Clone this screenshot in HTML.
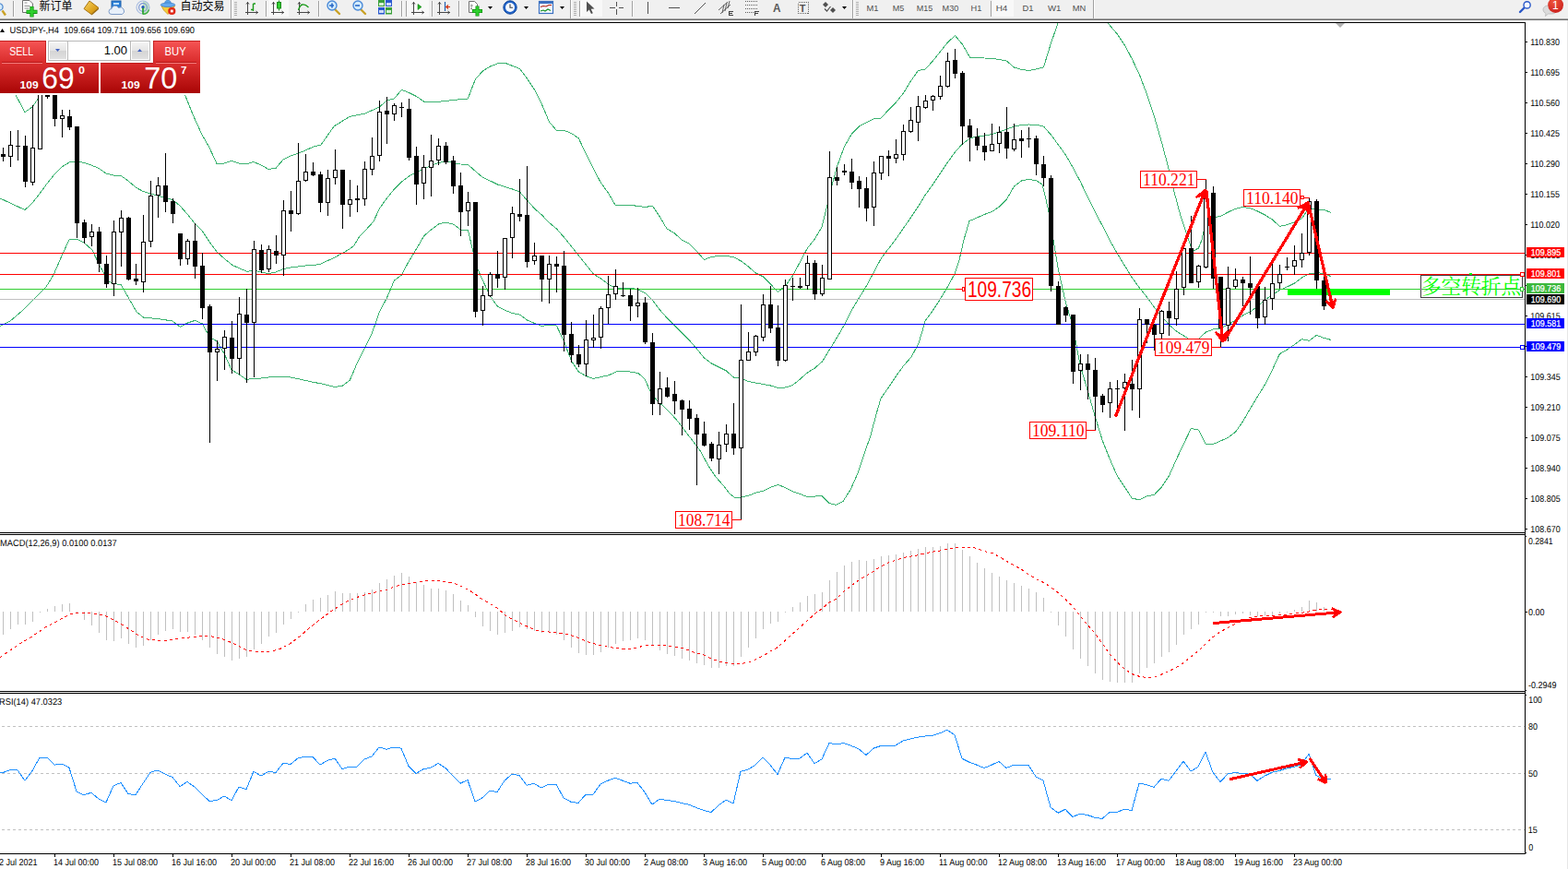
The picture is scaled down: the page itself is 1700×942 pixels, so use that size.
<!DOCTYPE html><html><head><meta charset="utf-8"><title>USDJPY H4</title><style>
html,body{margin:0;padding:0;background:#fff;}body{width:1700px;height:942px;overflow:hidden;position:relative;font-family:"Liberation Sans",sans-serif;}
svg{position:absolute;left:0;top:0;display:block}
text{font-family:"Liberation Sans",sans-serif;}
text.s{font-family:"Liberation Serif",serif;}
</style></head><body>
<svg width="1700" height="942" viewBox="0 0 1700 942">
<defs>
<clipPath id="cm"><rect x="0" y="25" width="1653" height="552"/></clipPath>
<clipPath id="cmacd"><rect x="0" y="580" width="1653" height="169"/></clipPath>
<clipPath id="crsi"><rect x="0" y="752" width="1653" height="173"/></clipPath>
<linearGradient id="gsell" x1="0" y1="0" x2="0" y2="1"><stop offset="0" stop-color="#f65555"/><stop offset="1" stop-color="#d92b2b"/></linearGradient>
<linearGradient id="gprice" x1="0" y1="0" x2="0" y2="1"><stop offset="0" stop-color="#db2f2f"/><stop offset="1" stop-color="#a90505"/></linearGradient>
<linearGradient id="gbtn" x1="0" y1="0" x2="0" y2="1"><stop offset="0" stop-color="#f4f4f4"/><stop offset="0.5" stop-color="#e4e4e4"/><stop offset="0.5" stop-color="#d4d4d4"/><stop offset="1" stop-color="#e0e0e0"/></linearGradient>
<radialGradient id="gred" cx="0.4" cy="0.3" r="0.8"><stop offset="0" stop-color="#f0553a"/><stop offset="1" stop-color="#c81e1e"/></radialGradient>
<linearGradient id="ggold" x1="0" y1="0" x2="1" y2="1"><stop offset="0" stop-color="#f6d76a"/><stop offset="0.6" stop-color="#e0a520"/><stop offset="1" stop-color="#b8820f"/></linearGradient>
</defs>
<rect x="0" y="0" width="1700" height="942" fill="#fff"/>
<rect x="0" y="0" width="1700" height="20" fill="#f0f0f0"/>
<g shape-rendering="crispEdges"><rect x="0" y="20" width="1700" height="1" fill="#a8a8a8"/><rect x="0" y="21" width="1700" height="1" fill="#6e6e6e"/><rect x="0" y="22" width="1700" height="2" fill="#ffffff"/></g>
<line x1="2.5" y1="11.5" x2="6" y2="16.5" stroke="#c9a227" stroke-width="2.4"/><circle cx="-0.5" cy="7.5" r="3.6" fill="#d4ecfc" stroke="#5a8fd0" stroke-width="1.3"/>
<rect x="14" y="1" width="1" height="17" fill="#a0a0a0" shape-rendering="crispEdges"/>
<rect x="15" y="1" width="1" height="17" fill="#fff" shape-rendering="crispEdges"/>
<path d="M24.5 0.5h7.5l3.5 3.5v9.5h-11z" fill="#fff" stroke="#707070" stroke-width="1"/><path d="M26.5 3h3M26.5 6.5h6M26.5 9h5" stroke="#909090" stroke-width="1"/>
<path d="M34.5 7v11.5M28.5 12.8h12" stroke="#0f8f0f" stroke-width="4.2"/><path d="M34.5 7.6v10.3M29.1 12.8h10.8" stroke="#2fd02f" stroke-width="2.6"/>
<text x="42.6" y="11.3" font-size="12" fill="#000" textLength="36" lengthAdjust="spacingAndGlyphs" style="font-family:'Liberation Sans','Noto Sans CJK SC',sans-serif">新订单</text>
<polygon points="91,9.5 97,1 107,8.5 99,15.5" fill="url(#ggold)" stroke="#a87412" stroke-width="1"/><polygon points="99,15.5 107,8.5 107,10 99.5,16.6" fill="#9a6a10"/>
<rect x="121" y="1" width="10" height="10" fill="#2a7fd8" stroke="#1c5fa8" stroke-width="1"/><rect x="123" y="3" width="6" height="2" fill="#bfe0ff"/>
<path d="M121 15.5a3 3 0 0 1 0-6a4 4 0 0 1 7.5-1a3.5 3.5 0 0 1 4 7z" fill="#e8f0fa" stroke="#7f9cc8" stroke-width="1"/>
<path d="M155 1A7 7 0 0 1 155 15.4Z" fill="#9fd89f" opacity="0.55"/>
<circle cx="155" cy="8" r="7" fill="none" stroke="#a8bce0" stroke-width="1.1"/><circle cx="155" cy="8" r="4.4" fill="none" stroke="#7c98d4" stroke-width="1.1"/><circle cx="155" cy="7.8" r="1.7" fill="#2456c0"/>
<path d="M155 8.5v7" stroke="#1fa01f" stroke-width="1.6" fill="none"/><path d="M155 15.4A7 7 0 0 0 161.5 10.5" stroke="#3cb03c" stroke-width="1.3" fill="none"/>
<path d="M175 6.5h14.5l-3 4.5l-4.5 4.5l-4.5-4.5z" fill="#f4cc3c" stroke="#c8961a" stroke-width="0.8"/>
<path d="M178.3 4.5C179 1 180 0 182 0S185 1 185.7 4.500z" fill="#5aa4e8" stroke="#3c78c0" stroke-width="0.6"/><ellipse cx="182" cy="5.3" rx="7.8" ry="2.3" fill="#64aaf0" stroke="#3c78c0" stroke-width="0.7"/>
<circle cx="186.3" cy="12" r="4.1" fill="#e02818"/><rect x="184.9" y="10.6" width="2.8" height="2.8" fill="#fff"/>
<text x="195.6" y="11.3" font-size="12" fill="#000" textLength="48" lengthAdjust="spacingAndGlyphs" style="font-family:'Liberation Sans','Noto Sans CJK SC',sans-serif">自动交易</text>
<rect x="250" y="0" width="1" height="20" fill="#a0a0a0" shape-rendering="crispEdges"/>
<rect x="251" y="0" width="1" height="20" fill="#fff" shape-rendering="crispEdges"/>
<rect x="254" y="2" width="3" height="1" fill="#b0b0b0" shape-rendering="crispEdges"/>
<rect x="254" y="4" width="3" height="1" fill="#b0b0b0" shape-rendering="crispEdges"/>
<rect x="254" y="6" width="3" height="1" fill="#b0b0b0" shape-rendering="crispEdges"/>
<rect x="254" y="8" width="3" height="1" fill="#b0b0b0" shape-rendering="crispEdges"/>
<rect x="254" y="10" width="3" height="1" fill="#b0b0b0" shape-rendering="crispEdges"/>
<rect x="254" y="12" width="3" height="1" fill="#b0b0b0" shape-rendering="crispEdges"/>
<rect x="254" y="14" width="3" height="1" fill="#b0b0b0" shape-rendering="crispEdges"/>
<rect x="254" y="16" width="3" height="1" fill="#b0b0b0" shape-rendering="crispEdges"/>
<path d="M268.5 2V16M266 13.5H280 M267.0 4.5l1.5-2 1.5 2M277.5 12l2 1.5-2 1.5" stroke="#484848" stroke-width="1" fill="none"/>
<path d="M274.5 4v8M274.5 4h2.5M272 10.5h2.5" stroke="#1a9a1a" stroke-width="1.4" fill="none"/>
<rect x="288" y="1" width="1" height="17" fill="#a0a0a0" shape-rendering="crispEdges"/>
<rect x="289" y="1" width="1" height="17" fill="#fff" shape-rendering="crispEdges"/>
<rect x="291" y="0" width="22" height="18" fill="#f8f8f8"/>
<path d="M296.5 2V16M294 13.5H308 M295.0 4.5l1.5-2 1.5 2M305.5 12l2 1.5-2 1.5" stroke="#484848" stroke-width="1" fill="none"/>
<path d="M302.5 0.5v11" stroke="#1a8a1a" stroke-width="1"/><rect x="300.5" y="2.5" width="4" height="6.5" fill="#30d030" stroke="#1a8a1a" stroke-width="1"/>
<path d="M324.5 2V16M322 13.5H336 M323.0 4.5l1.5-2 1.5 2M333.5 12l2 1.5-2 1.5" stroke="#484848" stroke-width="1" fill="none"/>
<path d="M323.5 11c2-7 6-8 11-3" stroke="#1a9a1a" stroke-width="1.3" fill="none"/>
<rect x="345" y="1" width="1" height="17" fill="#a0a0a0" shape-rendering="crispEdges"/>
<rect x="346" y="1" width="1" height="17" fill="#fff" shape-rendering="crispEdges"/>
<line x1="363" y1="10" x2="368" y2="15" stroke="#c9a227" stroke-width="2.4" stroke-linecap="round"/>
<circle cx="360" cy="6" r="5" fill="#d4ecfc" stroke="#4a8ad8" stroke-width="1.4"/>
<path d="M357 6h5M360 3.5v5" stroke="#2a6ac8" stroke-width="1.6"/>
<line x1="391" y1="10" x2="396" y2="15" stroke="#c9a227" stroke-width="2.4" stroke-linecap="round"/>
<circle cx="388" cy="6" r="5" fill="#d4ecfc" stroke="#4a8ad8" stroke-width="1.4"/>
<path d="M385 6h5" stroke="#2a6ac8" stroke-width="1.6"/>
<rect x="410" y="0" width="7" height="7" fill="#3aa03a"/><rect x="418" y="0" width="7" height="7" fill="#2a5ad0"/><rect x="410" y="8" width="7" height="7.5" fill="#2a5ad0"/><rect x="418" y="8" width="7" height="7.5" fill="#3aa03a"/>
<rect x="411" y="3" width="5" height="3" fill="#d8f0d8"/><rect x="419" y="3" width="5" height="3" fill="#d0dcf8"/><rect x="411" y="11" width="5" height="3" fill="#d0dcf8"/><rect x="419" y="11" width="5" height="3" fill="#d8f0d8"/>
<rect x="435" y="1" width="1" height="17" fill="#a0a0a0" shape-rendering="crispEdges"/>
<rect x="436" y="1" width="1" height="17" fill="#fff" shape-rendering="crispEdges"/>
<rect x="440" y="1" width="1" height="17" fill="#a0a0a0" shape-rendering="crispEdges"/>
<rect x="441" y="1" width="1" height="17" fill="#fff" shape-rendering="crispEdges"/>
<rect x="442" y="0" width="23" height="18" fill="#f8f8f8"/>
<path d="M448.5 2V16M446 13.5H460 M447.0 4.5l1.5-2 1.5 2M457.5 12l2 1.5-2 1.5" stroke="#484848" stroke-width="1" fill="none"/>
<polygon points="453,4.5 453,10.5 457,7.5" fill="#20b020" stroke="#148014" stroke-width="0.6"/>
<rect x="468" y="1" width="1" height="17" fill="#a0a0a0" shape-rendering="crispEdges"/>
<rect x="469" y="1" width="1" height="17" fill="#fff" shape-rendering="crispEdges"/>
<path d="M476.5 2V16M474 13.5H488 M475.0 4.5l1.5-2 1.5 2M485.5 12l2 1.5-2 1.5" stroke="#484848" stroke-width="1" fill="none"/>
<path d="M482.5 2v10" stroke="#2060b0" stroke-width="1.2"/><path d="M488 7.5h-4m2-2l-2.3 2 2.3 2" stroke="#d03010" stroke-width="1.1" fill="none"/>
<rect x="497" y="1" width="1" height="17" fill="#a0a0a0" shape-rendering="crispEdges"/>
<rect x="498" y="1" width="1" height="17" fill="#fff" shape-rendering="crispEdges"/>
<path d="M508.5 1.5h6l3 3v9h-9z" fill="#fff" stroke="#707070" stroke-width="1"/><path d="M511 4.5v6M510 9.5h2M510 6h3" stroke="#808080" stroke-width="0.8"/>
<path d="M517.5 6.5v11M512 12h11" stroke="#0f8f0f" stroke-width="4"/><path d="M517.5 7.1v9.8M512.6 12h9.8" stroke="#2fd02f" stroke-width="2.4"/>
<polygon points="529,7 534,7 531.5,10" fill="#000"/>
<circle cx="553" cy="8" r="7.2" fill="#1f62c8" stroke="#154a9c" stroke-width="1"/><circle cx="553" cy="8" r="5" fill="#f4f8ff"/><path d="M553 4.5v3.8h3" stroke="#404040" stroke-width="1.1" fill="none"/>
<polygon points="568,7 573,7 570.5,10" fill="#000"/>
<rect x="584.5" y="1.5" width="15" height="13" fill="#f4f8ff" stroke="#3a70c0" stroke-width="1.2"/><rect x="585" y="2" width="14" height="2" fill="#3a70c0"/><path d="M586 7.5l3-1 3 .5 3-1.5 3 0" stroke="#b02010" stroke-width="1.1" fill="none"/><path d="M586 12l3-1 2 1 3-2 3 1.5" stroke="#109020" stroke-width="1.1" fill="none"/>
<polygon points="607,7 612,7 609.5,10" fill="#000"/>
<rect x="618" y="0" width="1" height="20" fill="#a0a0a0" shape-rendering="crispEdges"/>
<rect x="619" y="0" width="1" height="20" fill="#fff" shape-rendering="crispEdges"/>
<rect x="622" y="2" width="3" height="1" fill="#b0b0b0" shape-rendering="crispEdges"/>
<rect x="622" y="4" width="3" height="1" fill="#b0b0b0" shape-rendering="crispEdges"/>
<rect x="622" y="6" width="3" height="1" fill="#b0b0b0" shape-rendering="crispEdges"/>
<rect x="622" y="8" width="3" height="1" fill="#b0b0b0" shape-rendering="crispEdges"/>
<rect x="622" y="10" width="3" height="1" fill="#b0b0b0" shape-rendering="crispEdges"/>
<rect x="622" y="12" width="3" height="1" fill="#b0b0b0" shape-rendering="crispEdges"/>
<rect x="622" y="14" width="3" height="1" fill="#b0b0b0" shape-rendering="crispEdges"/>
<rect x="622" y="16" width="3" height="1" fill="#b0b0b0" shape-rendering="crispEdges"/>
<rect x="628" y="1" width="1" height="17" fill="#a0a0a0" shape-rendering="crispEdges"/>
<rect x="629" y="1" width="1" height="17" fill="#fff" shape-rendering="crispEdges"/>
<rect x="630" y="0" width="23" height="18" fill="#f8f8f8"/>
<polygon points="636,1.5 636,13 638.8,10.5 641,15 642.8,14.2 640.7,9.8 644.5,9.5" fill="#505050"/>
<path d="M668.5 1.5v5M668.5 10v5.5M661 8.5h5.5M670.5 8.5h5.5" stroke="#505050" stroke-width="1" shape-rendering="crispEdges"/>
<rect x="685" y="1" width="1" height="17" fill="#a0a0a0" shape-rendering="crispEdges"/>
<rect x="686" y="1" width="1" height="17" fill="#fff" shape-rendering="crispEdges"/>
<rect x="702" y="2" width="1" height="13" fill="#505050" shape-rendering="crispEdges"/>
<rect x="725" y="8" width="12" height="1" fill="#505050" shape-rendering="crispEdges"/>
<line x1="753" y1="15" x2="765" y2="3" stroke="#505050" stroke-width="1"/>
<path d="M779 11l10-9M781 15l11-10M783 14l2-9M786 12l2-9M789 9l2-8" stroke="#505050" stroke-width="0.9" fill="none"/>
<path d="M790 12v5M790 12.5h4M790 14.5h3M790 16.5h4" transform="translate(0.5,0)" stroke="#404040" stroke-width="1" fill="none" shape-rendering="crispEdges"/>
<path d="M808 1.5h13M808 5.5h13M808 9.5h13M808 13.5h9" stroke="#606060" stroke-width="1" stroke-dasharray="1 1" shape-rendering="crispEdges"/>
<path d="M818 12v5M818 12.5h4M818 14.5h3" transform="translate(0.5,0)" stroke="#404040" stroke-width="1" fill="none" shape-rendering="crispEdges"/>
<text x="838" y="13" font-size="12" font-weight="bold" fill="#585858" textLength="8.5" lengthAdjust="spacingAndGlyphs">A</text>
<rect x="865.5" y="2.5" width="11" height="12" fill="none" stroke="#606060" stroke-width="1" stroke-dasharray="1 1" shape-rendering="crispEdges"/>
<text x="866.8" y="13" font-size="11" font-weight="bold" fill="#505050">T</text>
<polygon points="892,5 895,2 898,5 895,8" fill="#505050"/><polygon points="900,11 903,8 906,11 903,14" fill="#505050"/><path d="M894 9.5l2.5 2.5 4-5" stroke="#505050" stroke-width="1.2" fill="none"/>
<polygon points="913,7 918,7 915.5,10" fill="#000"/>
<rect x="924" y="0" width="1" height="20" fill="#a0a0a0" shape-rendering="crispEdges"/>
<rect x="925" y="0" width="1" height="20" fill="#fff" shape-rendering="crispEdges"/>
<rect x="928" y="2" width="3" height="1" fill="#b0b0b0" shape-rendering="crispEdges"/>
<rect x="928" y="4" width="3" height="1" fill="#b0b0b0" shape-rendering="crispEdges"/>
<rect x="928" y="6" width="3" height="1" fill="#b0b0b0" shape-rendering="crispEdges"/>
<rect x="928" y="8" width="3" height="1" fill="#b0b0b0" shape-rendering="crispEdges"/>
<rect x="928" y="10" width="3" height="1" fill="#b0b0b0" shape-rendering="crispEdges"/>
<rect x="928" y="12" width="3" height="1" fill="#b0b0b0" shape-rendering="crispEdges"/>
<rect x="928" y="14" width="3" height="1" fill="#b0b0b0" shape-rendering="crispEdges"/>
<rect x="928" y="16" width="3" height="1" fill="#b0b0b0" shape-rendering="crispEdges"/>
<text x="939.5" y="11.8" font-size="9.2" fill="#505050" textLength="13.0" lengthAdjust="spacingAndGlyphs">M1</text>
<text x="967.8" y="11.8" font-size="9.2" fill="#505050" textLength="12.5" lengthAdjust="spacingAndGlyphs">M5</text>
<text x="993.8" y="11.8" font-size="9.2" fill="#505050" textLength="17.5" lengthAdjust="spacingAndGlyphs">M15</text>
<text x="1021.6" y="11.8" font-size="9.2" fill="#505050" textLength="17.7" lengthAdjust="spacingAndGlyphs">M30</text>
<text x="1052.6" y="11.8" font-size="9.2" fill="#505050" textLength="11.8" lengthAdjust="spacingAndGlyphs">H1</text>
<rect x="1074" y="1" width="1" height="17" fill="#a0a0a0" shape-rendering="crispEdges"/>
<rect x="1075" y="1" width="1" height="17" fill="#fff" shape-rendering="crispEdges"/>
<rect x="1076" y="0" width="23" height="18" fill="#f8f8f8"/>
<text x="1079.7" y="11.8" font-size="9.2" fill="#505050" textLength="12.7" lengthAdjust="spacingAndGlyphs">H4</text>
<text x="1108.4" y="11.8" font-size="9.2" fill="#505050" textLength="12.0" lengthAdjust="spacingAndGlyphs">D1</text>
<text x="1136.0" y="11.8" font-size="9.2" fill="#505050" textLength="14.5" lengthAdjust="spacingAndGlyphs">W1</text>
<text x="1162.7" y="11.8" font-size="9.2" fill="#505050" textLength="14.5" lengthAdjust="spacingAndGlyphs">MN</text>
<rect x="1185" y="0" width="1" height="20" fill="#a0a0a0" shape-rendering="crispEdges"/>
<rect x="1186" y="0" width="1" height="20" fill="#fff" shape-rendering="crispEdges"/>
<line x1="1648" y1="13" x2="1653" y2="8" stroke="#2a58c8" stroke-width="2.4" stroke-linecap="round"/><circle cx="1655.6" cy="5.4" r="3.6" fill="#f4f8ff" stroke="#2a58c8" stroke-width="1.4"/>
<path d="M1673 11a5.5 4.5 0 0 1 5.5-5h4a5.5 4.5 0 0 1 0 9h-4l-3 2.5 0.5-3a5 5 0 0 1-3-3.500z" fill="#dcdcdc" stroke="#b8b8b8" stroke-width="0.8"/>
<circle cx="1686.6" cy="5.5" r="8.4" fill="url(#gred)"/>
<text x="1686.4" y="10" font-size="12" fill="#fff" text-anchor="middle">1</text>
<g clip-path="url(#cm)">
<polyline points="0.0,70.0 8.0,88.0 17.0,103.0 27.0,121.6 35.0,116.0 42.0,106.0 60.0,80.0 120.0,60.0 180.0,80.0 201.0,104.0 209.0,124.0 219.0,146.0 227.0,160.0 235.0,177.4 243.0,177.0 251.0,174.4 259.0,177.0 267.0,178.0 275.0,175.4 283.0,179.0 291.0,183.4 299.0,182.4 307.0,173.0 315.0,169.0 323.0,166.4 331.0,163.0 340.0,159.0 348.0,157.0 362.0,137.0 379.0,126.4 396.0,123.0 411.4,116.0 419.4,109.0 427.4,107.0 435.4,97.4 443.4,100.4 451.4,104.4 459.4,110.0 478.0,110.0 493.0,108.4 500.0,107.4 507.4,107.0 511.0,97.0 515.4,86.0 523.4,77.0 531.4,72.0 539.4,69.0 547.4,68.2 555.4,71.4 563.4,74.4 571.4,85.0 579.4,97.0 587.4,113.0 595.4,132.0 603.4,141.4 611.4,141.4 619.4,144.4 627.4,150.0 635.4,167.0 643.4,183.0 651.4,198.0 659.4,209.0 667.0,222.3 687.0,222.3 689.0,223.3 695.0,223.3 697.0,224.5 702.0,224.5 703.5,223.3 707.5,223.3 715.0,234.5 723.0,248.0 731.0,252.5 739.0,260.0 747.0,264.0 755.0,272.0 763.5,281.5 771.0,278.5 779.0,277.5 788.0,277.5 796.0,279.0 803.4,283.0 811.4,289.0 819.4,296.0 827.4,300.0 835.4,308.0 843.4,316.4 851.4,310.0 859.4,299.0 867.4,284.0 875.4,269.0 883.4,259.0 891.0,246.0 896.0,226.0 902.0,201.0 907.4,181.0 915.4,159.0 923.4,145.0 931.4,137.0 939.4,133.0 947.4,129.0 955.4,128.0 963.4,119.0 971.4,111.0 979.4,101.0 987.4,88.0 995.4,76.6 1003.4,75.0 1011.4,66.0 1019.4,56.0 1027.4,46.0 1035.4,38.6 1043.4,48.0 1051.4,62.0 1059.4,62.4 1067.4,63.0 1075.4,63.4 1083.4,64.4 1091.4,66.0 1099.4,73.0 1107.4,75.4 1115.4,76.4 1123.4,75.0 1131.4,73.0 1139.4,47.0 1147.0,25.0 1155.0,5.0 1165.0,-8.0 1175.0,-12.0 1185.0,-5.0 1193.0,8.0 1201.0,25.0 1211.4,37.0 1219.4,49.0 1227.4,64.0 1235.4,81.0 1243.4,102.0 1251.4,126.0 1259.4,154.0 1267.4,184.0 1272.0,204.0 1280.0,234.0 1286.0,252.0 1291.4,268.0 1294.0,272.0 1299.4,269.0 1303.0,260.0 1306.0,246.0 1312.0,238.0 1320.0,235.0 1323.4,234.4 1331.4,230.0 1339.4,226.4 1347.4,224.4 1355.4,225.6 1363.4,229.0 1371.4,233.0 1379.4,238.0 1387.4,245.4 1395.4,243.6 1403.4,241.0 1411.4,237.0 1416.0,230.0 1420.0,226.5 1427.4,227.0 1435.4,227.4 1443.0,230.4" fill="none" stroke="#3cb371" stroke-width="1" shape-rendering="crispEdges"/>
<polyline points="0.0,215.0 11.0,220.0 27.0,227.6 35.0,220.0 43.0,210.0 51.0,199.0 59.0,189.0 67.0,181.0 75.0,176.0 83.0,175.0 91.0,176.4 99.0,179.0 107.0,182.4 115.0,188.0 123.0,190.0 131.0,190.4 139.0,196.0 147.0,203.0 155.0,207.4 163.0,210.0 171.0,212.0 179.0,214.4 187.0,216.4 195.0,223.0 203.0,232.0 211.0,242.0 219.0,250.0 227.0,262.0 235.0,273.0 244.0,281.0 252.0,287.4 260.0,291.0 268.0,294.4 275.0,293.0 283.0,295.0 291.0,296.6 299.0,295.0 307.0,291.6 315.0,290.0 323.0,289.0 331.0,288.0 340.0,287.4 347.0,286.4 363.0,279.0 379.0,270.0 384.0,266.0 390.0,256.0 396.0,250.0 405.0,240.0 411.4,226.0 419.4,215.0 427.4,205.0 435.4,197.0 443.4,191.0 451.4,187.0 459.4,183.0 467.4,179.6 475.4,176.4 483.4,175.0 491.4,176.4 499.4,178.0 507.4,178.4 515.4,185.6 523.4,192.4 531.4,196.0 539.4,200.0 547.4,202.4 555.4,205.0 563.4,208.0 571.4,217.0 579.4,226.0 587.4,233.0 595.4,241.4 603.4,248.0 611.4,257.0 619.4,267.0 627.4,277.0 635.4,287.0 643.4,297.0 651.4,302.0 659.4,308.0 668.0,312.4 686.0,312.4 692.0,314.0 700.0,318.0 708.0,326.0 715.4,336.0 723.4,345.0 731.4,353.0 739.4,361.0 747.4,369.0 755.4,378.0 763.4,388.0 771.4,394.0 779.4,398.0 787.4,402.0 795.4,409.0 803.4,410.0 811.4,413.6 819.4,415.0 827.4,416.4 835.4,418.0 843.4,420.4 851.4,420.0 859.4,417.6 867.4,411.0 875.4,404.0 883.4,399.0 891.4,392.0 899.4,379.0 907.4,366.0 915.4,352.0 923.4,336.0 931.4,323.0 939.4,310.0 947.4,295.0 955.4,280.0 963.4,269.5 971.4,259.0 979.4,247.5 987.4,236.0 995.4,224.0 1003.4,211.0 1011.4,200.0 1019.4,188.0 1027.4,176.0 1035.4,165.0 1043.4,156.0 1051.4,150.0 1059.4,148.0 1067.4,147.0 1075.4,145.6 1083.4,143.0 1091.4,140.0 1099.4,137.0 1107.4,135.6 1115.4,135.0 1123.4,135.2 1131.4,137.0 1139.4,146.0 1147.4,157.0 1155.4,168.0 1163.4,182.0 1171.4,197.0 1179.4,214.0 1187.4,230.0 1195.4,245.0 1203.4,261.0 1211.4,275.0 1219.4,288.0 1227.4,301.0 1235.4,312.0 1243.4,322.0 1251.4,333.0 1259.4,343.0 1267.4,352.0 1275.4,359.0 1283.4,364.0 1290.0,368.0 1299.4,367.6 1307.4,360.0 1315.4,357.0 1323.4,356.0 1331.4,352.0 1339.4,347.0 1347.4,342.0 1355.4,338.0 1363.4,332.0 1371.4,325.0 1379.4,320.0 1387.4,314.4 1395.4,311.0 1403.4,307.0 1411.4,301.0 1419.4,297.0 1427.4,295.6 1435.4,296.4 1443.0,299.6" fill="none" stroke="#3cb371" stroke-width="1" shape-rendering="crispEdges"/>
<polyline points="0.0,353.6 11.0,348.0 24.0,337.0 40.0,321.0 50.0,311.0 58.0,298.0 68.0,275.0 75.0,260.0 83.0,259.0 91.0,263.0 100.0,271.0 108.0,288.0 118.0,305.0 123.0,307.6 131.0,308.4 140.0,324.0 148.0,338.0 156.0,344.4 170.0,345.4 187.0,348.0 195.4,354.4 203.4,350.0 211.4,347.4 219.4,351.0 227.0,365.0 235.0,370.0 243.0,383.0 251.0,401.0 259.0,405.6 267.0,411.4 275.0,410.4 283.0,410.0 291.0,409.0 299.0,408.0 307.0,408.0 315.0,409.0 323.0,410.6 331.0,412.4 340.0,414.4 347.0,415.6 363.0,419.4 371.0,418.4 379.4,412.0 387.4,393.0 395.4,377.0 403.4,361.0 411.4,338.0 419.4,323.0 427.4,304.0 435.4,298.0 443.4,283.0 451.4,270.0 459.4,256.0 467.4,249.0 475.4,243.0 483.4,241.0 491.4,243.0 499.4,249.0 507.4,249.4 512.0,269.0 518.0,292.0 523.4,304.0 531.4,321.0 539.4,332.0 547.4,336.4 555.4,339.4 563.4,341.0 571.4,347.0 579.4,350.4 587.4,353.4 595.4,352.0 603.4,353.0 611.4,370.0 619.4,391.0 627.4,403.0 635.4,407.6 643.4,410.4 651.4,408.6 659.4,407.0 668.0,403.0 680.0,402.6 692.0,404.4 699.0,411.0 705.0,424.0 712.0,434.0 720.0,441.0 728.0,449.0 736.0,458.0 744.0,469.0 752.0,479.0 760.0,490.0 768.0,505.0 776.0,517.0 784.0,526.0 791.0,535.0 796.0,539.0 804.0,539.0 812.0,537.0 820.0,534.0 828.0,532.0 836.0,528.0 844.0,525.4 852.0,529.0 860.0,533.0 868.0,535.6 876.0,539.0 884.0,538.0 891.0,537.4 899.0,545.4 906.0,547.4 914.0,543.4 922.0,531.0 930.0,513.0 938.0,489.0 944.0,472.0 950.0,449.0 955.0,432.0 964.0,419.0 972.0,407.0 980.0,396.0 988.0,387.0 994.0,376.0 996.0,372.0 1000.0,359.0 1003.0,348.0 1011.0,337.0 1019.0,325.0 1027.0,311.5 1035.0,297.0 1040.0,282.0 1045.0,260.0 1051.0,239.6 1059.4,236.0 1067.4,232.4 1075.4,229.6 1083.4,224.0 1091.4,216.0 1099.4,202.0 1107.4,196.0 1115.4,194.4 1123.4,195.6 1130.0,200.0 1134.0,216.0 1137.0,230.0 1142.0,260.0 1147.4,292.0 1155.4,328.0 1163.4,354.0 1168.0,380.0 1171.4,397.0 1179.4,424.0 1187.4,452.0 1195.4,478.0 1203.4,498.0 1211.4,516.0 1219.4,528.0 1227.4,540.4 1235.4,541.6 1243.4,538.0 1251.4,536.4 1259.4,528.0 1267.4,516.0 1275.4,498.0 1283.4,481.0 1291.4,464.4 1299.4,466.0 1307.4,481.4 1315.4,481.4 1323.4,478.0 1331.4,474.4 1339.4,468.4 1347.4,457.0 1355.4,443.0 1363.4,430.0 1371.4,417.0 1379.4,401.0 1387.4,383.6 1395.4,379.0 1403.4,373.6 1411.4,367.6 1419.4,369.4 1427.4,363.4 1435.4,366.4 1443.0,368.4" fill="none" stroke="#3cb371" stroke-width="1" shape-rendering="crispEdges"/>
<g shape-rendering="crispEdges">
<rect x="0" y="274" width="1653" height="1" fill="#ff0000"/>
<rect x="0" y="297" width="1653" height="1" fill="#ff0000"/>
<rect x="0" y="313" width="1653" height="1" fill="#32cd32"/>
<rect x="0" y="324" width="1653" height="1" fill="#c0c0c0"/>
<rect x="0" y="351" width="1653" height="1" fill="#0000ff"/>
<rect x="0" y="376" width="1653" height="1" fill="#0000ff"/>
<rect x="1396" y="313" width="111" height="7" fill="#00ff00"/>
</g>
<g shape-rendering="crispEdges">
<rect x="3" y="160" width="1" height="15" fill="#000"/>
<rect x="1" y="167" width="5" height="3" fill="#000"/>
<rect x="11" y="142" width="1" height="39" fill="#000"/>
<rect x="9" y="157" width="5" height="13" fill="#000"/><rect x="10" y="158" width="3" height="11" fill="#fff"/>
<rect x="19" y="141" width="1" height="33" fill="#000"/>
<rect x="17" y="158" width="5" height="1" fill="#000"/>
<rect x="27" y="147" width="1" height="56" fill="#000"/>
<rect x="25" y="158" width="5" height="39" fill="#000"/>
<rect x="35" y="114" width="1" height="87" fill="#000"/>
<rect x="33" y="160" width="5" height="38" fill="#000"/><rect x="34" y="161" width="3" height="36" fill="#fff"/>
<rect x="43" y="80" width="1" height="82" fill="#000"/>
<rect x="41" y="95" width="5" height="67" fill="#000"/><rect x="42" y="96" width="3" height="65" fill="#fff"/>
<rect x="51" y="100" width="1" height="7" fill="#000"/>
<rect x="49" y="103" width="5" height="2" fill="#000"/>
<rect x="59" y="95" width="1" height="42" fill="#000"/>
<rect x="57" y="98" width="5" height="31" fill="#000"/>
<rect x="67" y="119" width="1" height="30" fill="#000"/>
<rect x="65" y="125" width="5" height="4" fill="#000"/><rect x="66" y="126" width="3" height="2" fill="#fff"/>
<rect x="75" y="119" width="1" height="22" fill="#000"/>
<rect x="73" y="126" width="5" height="12" fill="#000"/>
<rect x="83" y="137" width="1" height="121" fill="#000"/>
<rect x="81" y="137" width="5" height="105" fill="#000"/>
<rect x="91" y="238" width="1" height="26" fill="#000"/>
<rect x="89" y="241" width="5" height="17" fill="#000"/>
<rect x="99" y="243" width="1" height="24" fill="#000"/>
<rect x="97" y="251" width="5" height="6" fill="#000"/><rect x="98" y="252" width="3" height="4" fill="#fff"/>
<rect x="107" y="246" width="1" height="49" fill="#000"/>
<rect x="105" y="251" width="5" height="35" fill="#000"/>
<rect x="115" y="277" width="1" height="35" fill="#000"/>
<rect x="113" y="286" width="5" height="22" fill="#000"/>
<rect x="123" y="239" width="1" height="82" fill="#000"/>
<rect x="121" y="251" width="5" height="57" fill="#000"/><rect x="122" y="252" width="3" height="55" fill="#fff"/>
<rect x="131" y="228" width="1" height="61" fill="#000"/>
<rect x="129" y="236" width="5" height="16" fill="#000"/><rect x="130" y="237" width="3" height="14" fill="#fff"/>
<rect x="139" y="235" width="1" height="69" fill="#000"/>
<rect x="137" y="236" width="5" height="67" fill="#000"/>
<rect x="147" y="286" width="1" height="23" fill="#000"/>
<rect x="145" y="302" width="5" height="3" fill="#000"/>
<rect x="155" y="233" width="1" height="84" fill="#000"/>
<rect x="153" y="262" width="5" height="44" fill="#000"/><rect x="154" y="263" width="3" height="42" fill="#fff"/>
<rect x="163" y="196" width="1" height="72" fill="#000"/>
<rect x="161" y="212" width="5" height="50" fill="#000"/><rect x="162" y="213" width="3" height="48" fill="#fff"/>
<rect x="171" y="192" width="1" height="44" fill="#000"/>
<rect x="169" y="201" width="5" height="11" fill="#000"/><rect x="170" y="202" width="3" height="9" fill="#fff"/>
<rect x="179" y="166" width="1" height="64" fill="#000"/>
<rect x="177" y="201" width="5" height="18" fill="#000"/>
<rect x="187" y="215" width="1" height="27" fill="#000"/>
<rect x="185" y="218" width="5" height="14" fill="#000"/>
<rect x="195" y="253" width="1" height="35" fill="#000"/>
<rect x="193" y="253" width="5" height="28" fill="#000"/>
<rect x="203" y="259" width="1" height="28" fill="#000"/>
<rect x="201" y="261" width="5" height="20" fill="#000"/><rect x="202" y="262" width="3" height="18" fill="#fff"/>
<rect x="211" y="242" width="1" height="60" fill="#000"/>
<rect x="209" y="261" width="5" height="28" fill="#000"/>
<rect x="219" y="274" width="1" height="72" fill="#000"/>
<rect x="217" y="288" width="5" height="46" fill="#000"/>
<rect x="227" y="330" width="1" height="150" fill="#000"/>
<rect x="225" y="332" width="5" height="50" fill="#000"/>
<rect x="235" y="369" width="1" height="44" fill="#000"/>
<rect x="233" y="378" width="5" height="4" fill="#000"/><rect x="234" y="379" width="3" height="2" fill="#fff"/>
<rect x="243" y="358" width="1" height="43" fill="#000"/>
<rect x="241" y="365" width="5" height="13" fill="#000"/><rect x="242" y="366" width="3" height="11" fill="#fff"/>
<rect x="251" y="348" width="1" height="57" fill="#000"/>
<rect x="249" y="366" width="5" height="23" fill="#000"/>
<rect x="259" y="322" width="1" height="84" fill="#000"/>
<rect x="257" y="340" width="5" height="49" fill="#000"/><rect x="258" y="341" width="3" height="47" fill="#fff"/>
<rect x="267" y="313" width="1" height="102" fill="#000"/>
<rect x="265" y="341" width="5" height="9" fill="#000"/>
<rect x="275" y="261" width="1" height="148" fill="#000"/>
<rect x="273" y="270" width="5" height="80" fill="#000"/><rect x="274" y="271" width="3" height="78" fill="#fff"/>
<rect x="283" y="265" width="1" height="31" fill="#000"/>
<rect x="281" y="271" width="5" height="22" fill="#000"/>
<rect x="291" y="266" width="1" height="29" fill="#000"/>
<rect x="289" y="270" width="5" height="22" fill="#000"/><rect x="290" y="271" width="3" height="20" fill="#fff"/>
<rect x="299" y="255" width="1" height="31" fill="#000"/>
<rect x="297" y="272" width="5" height="5" fill="#000"/>
<rect x="307" y="217" width="1" height="82" fill="#000"/>
<rect x="305" y="228" width="5" height="49" fill="#000"/><rect x="306" y="229" width="3" height="47" fill="#fff"/>
<rect x="315" y="207" width="1" height="44" fill="#000"/>
<rect x="313" y="228" width="5" height="4" fill="#000"/>
<rect x="323" y="155" width="1" height="78" fill="#000"/>
<rect x="321" y="196" width="5" height="36" fill="#000"/><rect x="322" y="197" width="3" height="34" fill="#fff"/>
<rect x="331" y="167" width="1" height="30" fill="#000"/>
<rect x="329" y="186" width="5" height="10" fill="#000"/><rect x="330" y="187" width="3" height="8" fill="#fff"/>
<rect x="339" y="176" width="1" height="15" fill="#000"/>
<rect x="337" y="186" width="5" height="4" fill="#000"/>
<rect x="347" y="186" width="1" height="44" fill="#000"/>
<rect x="345" y="189" width="5" height="31" fill="#000"/>
<rect x="355" y="184" width="1" height="50" fill="#000"/>
<rect x="353" y="193" width="5" height="27" fill="#000"/><rect x="354" y="194" width="3" height="25" fill="#fff"/>
<rect x="363" y="162" width="1" height="38" fill="#000"/>
<rect x="361" y="184" width="5" height="9" fill="#000"/><rect x="362" y="185" width="3" height="7" fill="#fff"/>
<rect x="371" y="184" width="1" height="64" fill="#000"/>
<rect x="369" y="184" width="5" height="38" fill="#000"/>
<rect x="379" y="195" width="1" height="40" fill="#000"/>
<rect x="377" y="216" width="5" height="6" fill="#000"/><rect x="378" y="217" width="3" height="4" fill="#fff"/>
<rect x="387" y="201" width="1" height="29" fill="#000"/>
<rect x="385" y="215" width="5" height="2" fill="#000"/>
<rect x="395" y="175" width="1" height="48" fill="#000"/>
<rect x="393" y="183" width="5" height="33" fill="#000"/><rect x="394" y="184" width="3" height="31" fill="#fff"/>
<rect x="403" y="149" width="1" height="41" fill="#000"/>
<rect x="401" y="169" width="5" height="15" fill="#000"/><rect x="402" y="170" width="3" height="13" fill="#fff"/>
<rect x="411" y="109" width="1" height="66" fill="#000"/>
<rect x="409" y="121" width="5" height="48" fill="#000"/><rect x="410" y="122" width="3" height="46" fill="#fff"/>
<rect x="419" y="105" width="1" height="51" fill="#000"/>
<rect x="417" y="120" width="5" height="4" fill="#000"/>
<rect x="427" y="112" width="1" height="19" fill="#000"/>
<rect x="425" y="114" width="5" height="10" fill="#000"/><rect x="426" y="115" width="3" height="8" fill="#fff"/>
<rect x="435" y="111" width="1" height="16" fill="#000"/>
<rect x="433" y="116" width="5" height="1" fill="#000"/>
<rect x="443" y="107" width="1" height="67" fill="#000"/>
<rect x="441" y="118" width="5" height="53" fill="#000"/>
<rect x="451" y="159" width="1" height="63" fill="#000"/>
<rect x="449" y="169" width="5" height="31" fill="#000"/>
<rect x="459" y="168" width="1" height="48" fill="#000"/>
<rect x="457" y="181" width="5" height="18" fill="#000"/><rect x="458" y="182" width="3" height="16" fill="#fff"/>
<rect x="467" y="146" width="1" height="67" fill="#000"/>
<rect x="465" y="174" width="5" height="8" fill="#000"/><rect x="466" y="175" width="3" height="6" fill="#fff"/>
<rect x="475" y="150" width="1" height="29" fill="#000"/>
<rect x="473" y="158" width="5" height="16" fill="#000"/><rect x="474" y="159" width="3" height="14" fill="#fff"/>
<rect x="483" y="154" width="1" height="24" fill="#000"/>
<rect x="481" y="158" width="5" height="18" fill="#000"/>
<rect x="491" y="169" width="1" height="41" fill="#000"/>
<rect x="489" y="174" width="5" height="28" fill="#000"/>
<rect x="499" y="187" width="1" height="69" fill="#000"/>
<rect x="497" y="201" width="5" height="29" fill="#000"/>
<rect x="507" y="208" width="1" height="37" fill="#000"/>
<rect x="505" y="219" width="5" height="10" fill="#000"/><rect x="506" y="220" width="3" height="8" fill="#fff"/>
<rect x="515" y="219" width="1" height="125" fill="#000"/>
<rect x="513" y="219" width="5" height="119" fill="#000"/>
<rect x="523" y="310" width="1" height="43" fill="#000"/>
<rect x="521" y="320" width="5" height="17" fill="#000"/><rect x="522" y="321" width="3" height="15" fill="#fff"/>
<rect x="531" y="295" width="1" height="27" fill="#000"/>
<rect x="529" y="297" width="5" height="24" fill="#000"/><rect x="530" y="298" width="3" height="22" fill="#fff"/>
<rect x="539" y="272" width="1" height="40" fill="#000"/>
<rect x="537" y="297" width="5" height="5" fill="#000"/>
<rect x="547" y="258" width="1" height="56" fill="#000"/>
<rect x="545" y="258" width="5" height="43" fill="#000"/><rect x="546" y="259" width="3" height="41" fill="#fff"/>
<rect x="555" y="224" width="1" height="56" fill="#000"/>
<rect x="553" y="231" width="5" height="27" fill="#000"/><rect x="554" y="232" width="3" height="25" fill="#fff"/>
<rect x="563" y="194" width="1" height="46" fill="#000"/>
<rect x="561" y="232" width="5" height="3" fill="#000"/>
<rect x="571" y="180" width="1" height="110" fill="#000"/>
<rect x="569" y="233" width="5" height="51" fill="#000"/>
<rect x="579" y="263" width="1" height="24" fill="#000"/>
<rect x="577" y="277" width="5" height="6" fill="#000"/><rect x="578" y="278" width="3" height="4" fill="#fff"/>
<rect x="587" y="277" width="1" height="50" fill="#000"/>
<rect x="585" y="277" width="5" height="26" fill="#000"/>
<rect x="595" y="277" width="1" height="52" fill="#000"/>
<rect x="593" y="286" width="5" height="17" fill="#000"/><rect x="594" y="287" width="3" height="15" fill="#fff"/>
<rect x="603" y="278" width="1" height="39" fill="#000"/>
<rect x="601" y="286" width="5" height="3" fill="#000"/>
<rect x="611" y="272" width="1" height="109" fill="#000"/>
<rect x="609" y="288" width="5" height="75" fill="#000"/>
<rect x="619" y="349" width="1" height="44" fill="#000"/>
<rect x="617" y="362" width="5" height="23" fill="#000"/>
<rect x="627" y="374" width="1" height="24" fill="#000"/>
<rect x="625" y="384" width="5" height="11" fill="#000"/>
<rect x="635" y="347" width="1" height="61" fill="#000"/>
<rect x="633" y="368" width="5" height="27" fill="#000"/><rect x="634" y="369" width="3" height="25" fill="#fff"/>
<rect x="643" y="341" width="1" height="36" fill="#000"/>
<rect x="641" y="366" width="5" height="3" fill="#000"/><rect x="642" y="367" width="3" height="1" fill="#fff"/>
<rect x="651" y="332" width="1" height="46" fill="#000"/>
<rect x="649" y="334" width="5" height="32" fill="#000"/><rect x="650" y="335" width="3" height="30" fill="#fff"/>
<rect x="659" y="299" width="1" height="52" fill="#000"/>
<rect x="657" y="319" width="5" height="15" fill="#000"/><rect x="658" y="320" width="3" height="13" fill="#fff"/>
<rect x="667" y="292" width="1" height="33" fill="#000"/>
<rect x="665" y="310" width="5" height="9" fill="#000"/><rect x="666" y="311" width="3" height="7" fill="#fff"/>
<rect x="675" y="306" width="1" height="16" fill="#000"/>
<rect x="673" y="320" width="5" height="1" fill="#000"/>
<rect x="683" y="313" width="1" height="35" fill="#000"/>
<rect x="681" y="320" width="5" height="12" fill="#000"/>
<rect x="691" y="312" width="1" height="32" fill="#000"/>
<rect x="689" y="328" width="5" height="4" fill="#000"/><rect x="690" y="329" width="3" height="2" fill="#fff"/>
<rect x="699" y="322" width="1" height="51" fill="#000"/>
<rect x="697" y="328" width="5" height="43" fill="#000"/>
<rect x="707" y="361" width="1" height="89" fill="#000"/>
<rect x="705" y="371" width="5" height="67" fill="#000"/>
<rect x="715" y="403" width="1" height="47" fill="#000"/>
<rect x="713" y="421" width="5" height="17" fill="#000"/><rect x="714" y="422" width="3" height="15" fill="#fff"/>
<rect x="723" y="409" width="1" height="22" fill="#000"/>
<rect x="721" y="420" width="5" height="10" fill="#000"/>
<rect x="731" y="413" width="1" height="36" fill="#000"/>
<rect x="729" y="427" width="5" height="8" fill="#000"/>
<rect x="739" y="433" width="1" height="39" fill="#000"/>
<rect x="737" y="434" width="5" height="10" fill="#000"/>
<rect x="747" y="434" width="1" height="32" fill="#000"/>
<rect x="745" y="443" width="5" height="11" fill="#000"/>
<rect x="755" y="449" width="1" height="77" fill="#000"/>
<rect x="753" y="453" width="5" height="18" fill="#000"/>
<rect x="763" y="457" width="1" height="27" fill="#000"/>
<rect x="761" y="470" width="5" height="13" fill="#000"/>
<rect x="771" y="479" width="1" height="21" fill="#000"/>
<rect x="769" y="481" width="5" height="16" fill="#000"/>
<rect x="779" y="468" width="1" height="46" fill="#000"/>
<rect x="777" y="482" width="5" height="16" fill="#000"/><rect x="778" y="483" width="3" height="14" fill="#fff"/>
<rect x="787" y="460" width="1" height="30" fill="#000"/>
<rect x="785" y="470" width="5" height="12" fill="#000"/><rect x="786" y="471" width="3" height="10" fill="#fff"/>
<rect x="795" y="437" width="1" height="56" fill="#000"/>
<rect x="793" y="470" width="5" height="16" fill="#000"/>
<rect x="803" y="330" width="1" height="234" fill="#000"/>
<rect x="801" y="390" width="5" height="96" fill="#000"/><rect x="802" y="391" width="3" height="94" fill="#fff"/>
<rect x="811" y="360" width="1" height="31" fill="#000"/>
<rect x="809" y="381" width="5" height="10" fill="#000"/><rect x="810" y="382" width="3" height="8" fill="#fff"/>
<rect x="819" y="363" width="1" height="23" fill="#000"/>
<rect x="817" y="364" width="5" height="18" fill="#000"/><rect x="818" y="365" width="3" height="16" fill="#fff"/>
<rect x="827" y="319" width="1" height="51" fill="#000"/>
<rect x="825" y="330" width="5" height="36" fill="#000"/><rect x="826" y="331" width="3" height="34" fill="#fff"/>
<rect x="835" y="310" width="1" height="51" fill="#000"/>
<rect x="833" y="330" width="5" height="26" fill="#000"/>
<rect x="843" y="331" width="1" height="66" fill="#000"/>
<rect x="841" y="355" width="5" height="36" fill="#000"/>
<rect x="851" y="303" width="1" height="89" fill="#000"/>
<rect x="849" y="309" width="5" height="82" fill="#000"/><rect x="850" y="310" width="3" height="80" fill="#fff"/>
<rect x="859" y="301" width="1" height="25" fill="#000"/>
<rect x="857" y="310" width="5" height="1" fill="#000"/>
<rect x="867" y="301" width="1" height="12" fill="#000"/>
<rect x="865" y="310" width="5" height="2" fill="#000"/>
<rect x="875" y="277" width="1" height="37" fill="#000"/>
<rect x="873" y="285" width="5" height="25" fill="#000"/><rect x="874" y="286" width="3" height="23" fill="#fff"/>
<rect x="883" y="282" width="1" height="43" fill="#000"/>
<rect x="881" y="285" width="5" height="34" fill="#000"/>
<rect x="891" y="287" width="1" height="34" fill="#000"/>
<rect x="889" y="301" width="5" height="18" fill="#000"/><rect x="890" y="302" width="3" height="16" fill="#fff"/>
<rect x="899" y="164" width="1" height="139" fill="#000"/>
<rect x="897" y="192" width="5" height="111" fill="#000"/><rect x="898" y="193" width="3" height="109" fill="#fff"/>
<rect x="907" y="181" width="1" height="20" fill="#000"/>
<rect x="905" y="192" width="5" height="4" fill="#000"/>
<rect x="915" y="178" width="1" height="12" fill="#000"/>
<rect x="913" y="185" width="5" height="2" fill="#000"/>
<rect x="923" y="172" width="1" height="33" fill="#000"/>
<rect x="921" y="186" width="5" height="12" fill="#000"/>
<rect x="931" y="191" width="1" height="34" fill="#000"/>
<rect x="929" y="196" width="5" height="9" fill="#000"/>
<rect x="939" y="192" width="1" height="48" fill="#000"/>
<rect x="937" y="204" width="5" height="22" fill="#000"/>
<rect x="947" y="175" width="1" height="70" fill="#000"/>
<rect x="945" y="187" width="5" height="38" fill="#000"/><rect x="946" y="188" width="3" height="36" fill="#fff"/>
<rect x="955" y="169" width="1" height="26" fill="#000"/>
<rect x="953" y="169" width="5" height="19" fill="#000"/><rect x="954" y="170" width="3" height="17" fill="#fff"/>
<rect x="963" y="163" width="1" height="28" fill="#000"/>
<rect x="961" y="169" width="5" height="3" fill="#000"/>
<rect x="971" y="151" width="1" height="26" fill="#000"/>
<rect x="969" y="167" width="5" height="5" fill="#000"/><rect x="970" y="168" width="3" height="3" fill="#fff"/>
<rect x="979" y="135" width="1" height="39" fill="#000"/>
<rect x="977" y="142" width="5" height="26" fill="#000"/><rect x="978" y="143" width="3" height="24" fill="#fff"/>
<rect x="987" y="116" width="1" height="28" fill="#000"/>
<rect x="985" y="130" width="5" height="13" fill="#000"/><rect x="986" y="131" width="3" height="11" fill="#fff"/>
<rect x="995" y="104" width="1" height="49" fill="#000"/>
<rect x="993" y="115" width="5" height="18" fill="#000"/><rect x="994" y="116" width="3" height="16" fill="#fff"/>
<rect x="1003" y="103" width="1" height="15" fill="#000"/>
<rect x="1001" y="109" width="5" height="8" fill="#000"/><rect x="1002" y="110" width="3" height="6" fill="#fff"/>
<rect x="1011" y="103" width="1" height="17" fill="#000"/>
<rect x="1009" y="104" width="5" height="5" fill="#000"/><rect x="1010" y="105" width="3" height="3" fill="#fff"/>
<rect x="1019" y="82" width="1" height="26" fill="#000"/>
<rect x="1017" y="93" width="5" height="12" fill="#000"/><rect x="1018" y="94" width="3" height="10" fill="#fff"/>
<rect x="1027" y="57" width="1" height="38" fill="#000"/>
<rect x="1025" y="66" width="5" height="28" fill="#000"/><rect x="1026" y="67" width="3" height="26" fill="#fff"/>
<rect x="1035" y="53" width="1" height="32" fill="#000"/>
<rect x="1033" y="65" width="5" height="15" fill="#000"/>
<rect x="1043" y="77" width="1" height="80" fill="#000"/>
<rect x="1041" y="79" width="5" height="58" fill="#000"/>
<rect x="1051" y="129" width="1" height="46" fill="#000"/>
<rect x="1049" y="136" width="5" height="13" fill="#000"/>
<rect x="1059" y="139" width="1" height="24" fill="#000"/>
<rect x="1057" y="148" width="5" height="10" fill="#000"/>
<rect x="1067" y="144" width="1" height="30" fill="#000"/>
<rect x="1065" y="158" width="5" height="7" fill="#000"/>
<rect x="1075" y="134" width="1" height="30" fill="#000"/>
<rect x="1073" y="156" width="5" height="8" fill="#000"/><rect x="1074" y="157" width="3" height="6" fill="#fff"/>
<rect x="1083" y="137" width="1" height="29" fill="#000"/>
<rect x="1081" y="143" width="5" height="13" fill="#000"/><rect x="1082" y="144" width="3" height="11" fill="#fff"/>
<rect x="1091" y="116" width="1" height="56" fill="#000"/>
<rect x="1089" y="143" width="5" height="18" fill="#000"/>
<rect x="1099" y="134" width="1" height="30" fill="#000"/>
<rect x="1097" y="151" width="5" height="11" fill="#000"/><rect x="1098" y="152" width="3" height="9" fill="#fff"/>
<rect x="1107" y="141" width="1" height="30" fill="#000"/>
<rect x="1105" y="150" width="5" height="3" fill="#000"/>
<rect x="1115" y="138" width="1" height="22" fill="#000"/>
<rect x="1113" y="150" width="5" height="1" fill="#000"/>
<rect x="1123" y="147" width="1" height="43" fill="#000"/>
<rect x="1121" y="150" width="5" height="28" fill="#000"/>
<rect x="1131" y="169" width="1" height="33" fill="#000"/>
<rect x="1129" y="178" width="5" height="15" fill="#000"/>
<rect x="1139" y="190" width="1" height="126" fill="#000"/>
<rect x="1137" y="193" width="5" height="117" fill="#000"/>
<rect x="1147" y="305" width="1" height="47" fill="#000"/>
<rect x="1145" y="310" width="5" height="42" fill="#000"/>
<rect x="1155" y="332" width="1" height="17" fill="#000"/>
<rect x="1153" y="333" width="5" height="9" fill="#000"/>
<rect x="1163" y="341" width="1" height="75" fill="#000"/>
<rect x="1161" y="341" width="5" height="62" fill="#000"/>
<rect x="1171" y="384" width="1" height="39" fill="#000"/>
<rect x="1169" y="394" width="5" height="8" fill="#000"/><rect x="1170" y="395" width="3" height="6" fill="#fff"/>
<rect x="1179" y="384" width="1" height="49" fill="#000"/>
<rect x="1177" y="394" width="5" height="7" fill="#000"/>
<rect x="1187" y="388" width="1" height="79" fill="#000"/>
<rect x="1185" y="401" width="5" height="29" fill="#000"/>
<rect x="1195" y="427" width="1" height="20" fill="#000"/>
<rect x="1193" y="429" width="5" height="10" fill="#000"/>
<rect x="1203" y="414" width="1" height="39" fill="#000"/>
<rect x="1201" y="421" width="5" height="16" fill="#000"/><rect x="1202" y="422" width="3" height="14" fill="#fff"/>
<rect x="1211" y="412" width="1" height="36" fill="#000"/>
<rect x="1209" y="421" width="5" height="1" fill="#000"/>
<rect x="1219" y="405" width="1" height="62" fill="#000"/>
<rect x="1217" y="414" width="5" height="7" fill="#000"/><rect x="1218" y="415" width="3" height="5" fill="#fff"/>
<rect x="1227" y="390" width="1" height="55" fill="#000"/>
<rect x="1225" y="416" width="5" height="6" fill="#000"/>
<rect x="1235" y="334" width="1" height="119" fill="#000"/>
<rect x="1233" y="346" width="5" height="76" fill="#000"/><rect x="1234" y="347" width="3" height="74" fill="#fff"/>
<rect x="1243" y="346" width="1" height="26" fill="#000"/>
<rect x="1241" y="346" width="5" height="6" fill="#000"/>
<rect x="1251" y="351" width="1" height="29" fill="#000"/>
<rect x="1249" y="352" width="5" height="11" fill="#000"/>
<rect x="1259" y="336" width="1" height="34" fill="#000"/>
<rect x="1257" y="337" width="5" height="25" fill="#000"/><rect x="1258" y="338" width="3" height="23" fill="#fff"/>
<rect x="1267" y="327" width="1" height="37" fill="#000"/>
<rect x="1265" y="337" width="5" height="8" fill="#000"/>
<rect x="1275" y="294" width="1" height="59" fill="#000"/>
<rect x="1273" y="313" width="5" height="33" fill="#000"/><rect x="1274" y="314" width="3" height="31" fill="#fff"/>
<rect x="1283" y="268" width="1" height="52" fill="#000"/>
<rect x="1281" y="269" width="5" height="43" fill="#000"/><rect x="1282" y="270" width="3" height="41" fill="#fff"/>
<rect x="1291" y="234" width="1" height="73" fill="#000"/>
<rect x="1289" y="269" width="5" height="38" fill="#000"/>
<rect x="1299" y="287" width="1" height="25" fill="#000"/>
<rect x="1297" y="288" width="5" height="18" fill="#000"/><rect x="1298" y="289" width="3" height="16" fill="#fff"/>
<rect x="1307" y="194" width="1" height="97" fill="#000"/>
<rect x="1305" y="208" width="5" height="82" fill="#000"/><rect x="1306" y="209" width="3" height="80" fill="#fff"/>
<rect x="1315" y="202" width="1" height="111" fill="#000"/>
<rect x="1313" y="209" width="5" height="93" fill="#000"/>
<rect x="1323" y="300" width="1" height="76" fill="#000"/>
<rect x="1321" y="300" width="5" height="56" fill="#000"/>
<rect x="1331" y="289" width="1" height="81" fill="#000"/>
<rect x="1329" y="312" width="5" height="41" fill="#000"/><rect x="1330" y="313" width="3" height="39" fill="#fff"/>
<rect x="1339" y="291" width="1" height="22" fill="#000"/>
<rect x="1337" y="303" width="5" height="8" fill="#000"/><rect x="1338" y="304" width="3" height="6" fill="#fff"/>
<rect x="1347" y="300" width="1" height="32" fill="#000"/>
<rect x="1345" y="303" width="5" height="4" fill="#000"/>
<rect x="1355" y="278" width="1" height="63" fill="#000"/>
<rect x="1353" y="307" width="5" height="5" fill="#000"/>
<rect x="1363" y="310" width="1" height="46" fill="#000"/>
<rect x="1361" y="310" width="5" height="35" fill="#000"/>
<rect x="1371" y="311" width="1" height="41" fill="#000"/>
<rect x="1369" y="325" width="5" height="19" fill="#000"/><rect x="1370" y="326" width="3" height="17" fill="#fff"/>
<rect x="1379" y="284" width="1" height="52" fill="#000"/>
<rect x="1377" y="307" width="5" height="17" fill="#000"/><rect x="1378" y="308" width="3" height="15" fill="#fff"/>
<rect x="1387" y="287" width="1" height="26" fill="#000"/>
<rect x="1385" y="297" width="5" height="10" fill="#000"/><rect x="1386" y="298" width="3" height="8" fill="#fff"/>
<rect x="1395" y="279" width="1" height="14" fill="#000"/>
<rect x="1393" y="289" width="5" height="1" fill="#000"/>
<rect x="1403" y="266" width="1" height="32" fill="#000"/>
<rect x="1401" y="282" width="5" height="7" fill="#000"/><rect x="1402" y="283" width="3" height="5" fill="#fff"/>
<rect x="1411" y="253" width="1" height="37" fill="#000"/>
<rect x="1409" y="274" width="5" height="8" fill="#000"/><rect x="1410" y="275" width="3" height="6" fill="#fff"/>
<rect x="1419" y="214" width="1" height="63" fill="#000"/>
<rect x="1417" y="218" width="5" height="56" fill="#000"/><rect x="1418" y="219" width="3" height="54" fill="#fff"/>
<rect x="1427" y="216" width="1" height="97" fill="#000"/>
<rect x="1425" y="218" width="5" height="86" fill="#000"/>
<rect x="1435" y="300" width="1" height="36" fill="#000"/>
<rect x="1433" y="304" width="5" height="28" fill="#000"/>
</g>
<polygon points="1448,25 1458,25 1453,30" fill="#b0b0b0"/>
</g>
<g clip-path="url(#cmacd)">
<g shape-rendering="crispEdges" fill="#c0c0c0">
<rect x="3" y="663" width="1" height="25"/>
<rect x="11" y="663" width="1" height="19"/>
<rect x="19" y="663" width="1" height="14"/>
<rect x="27" y="663" width="1" height="14"/>
<rect x="35" y="663" width="1" height="11"/>
<rect x="43" y="663" width="1" height="1"/>
<rect x="51" y="660" width="1" height="3"/>
<rect x="59" y="657" width="1" height="6"/>
<rect x="67" y="655" width="1" height="8"/>
<rect x="75" y="654" width="1" height="9"/>
<rect x="83" y="663" width="1" height="1"/>
<rect x="91" y="663" width="1" height="9"/>
<rect x="99" y="663" width="1" height="15"/>
<rect x="107" y="663" width="1" height="23"/>
<rect x="115" y="663" width="1" height="31"/>
<rect x="123" y="663" width="1" height="32"/>
<rect x="131" y="663" width="1" height="29"/>
<rect x="139" y="663" width="1" height="35"/>
<rect x="147" y="663" width="1" height="39"/>
<rect x="155" y="663" width="1" height="37"/>
<rect x="163" y="663" width="1" height="31"/>
<rect x="171" y="663" width="1" height="25"/>
<rect x="179" y="663" width="1" height="21"/>
<rect x="187" y="663" width="1" height="19"/>
<rect x="195" y="663" width="1" height="22"/>
<rect x="203" y="663" width="1" height="22"/>
<rect x="211" y="663" width="1" height="25"/>
<rect x="219" y="663" width="1" height="31"/>
<rect x="227" y="663" width="1" height="39"/>
<rect x="235" y="663" width="1" height="46"/>
<rect x="243" y="663" width="1" height="49"/>
<rect x="251" y="663" width="1" height="53"/>
<rect x="259" y="663" width="1" height="51"/>
<rect x="267" y="663" width="1" height="49"/>
<rect x="275" y="663" width="1" height="41"/>
<rect x="283" y="663" width="1" height="35"/>
<rect x="291" y="663" width="1" height="27"/>
<rect x="299" y="663" width="1" height="23"/>
<rect x="307" y="663" width="1" height="14"/>
<rect x="315" y="663" width="1" height="8"/>
<rect x="323" y="663" width="1" height="1"/>
<rect x="331" y="655" width="1" height="8"/>
<rect x="339" y="650" width="1" height="13"/>
<rect x="347" y="648" width="1" height="15"/>
<rect x="355" y="645" width="1" height="18"/>
<rect x="363" y="641" width="1" height="22"/>
<rect x="371" y="643" width="1" height="20"/>
<rect x="379" y="643" width="1" height="20"/>
<rect x="387" y="643" width="1" height="20"/>
<rect x="395" y="642" width="1" height="21"/>
<rect x="403" y="639" width="1" height="24"/>
<rect x="411" y="632" width="1" height="31"/>
<rect x="419" y="628" width="1" height="35"/>
<rect x="427" y="624" width="1" height="39"/>
<rect x="435" y="621" width="1" height="42"/>
<rect x="443" y="625" width="1" height="38"/>
<rect x="451" y="631" width="1" height="32"/>
<rect x="459" y="634" width="1" height="29"/>
<rect x="467" y="638" width="1" height="25"/>
<rect x="475" y="638" width="1" height="25"/>
<rect x="483" y="640" width="1" height="23"/>
<rect x="491" y="644" width="1" height="19"/>
<rect x="499" y="651" width="1" height="12"/>
<rect x="507" y="656" width="1" height="7"/>
<rect x="515" y="663" width="1" height="6"/>
<rect x="523" y="663" width="1" height="16"/>
<rect x="531" y="663" width="1" height="21"/>
<rect x="539" y="663" width="1" height="25"/>
<rect x="547" y="663" width="1" height="23"/>
<rect x="555" y="663" width="1" height="21"/>
<rect x="563" y="663" width="1" height="17"/>
<rect x="571" y="663" width="1" height="19"/>
<rect x="579" y="663" width="1" height="21"/>
<rect x="587" y="663" width="1" height="23"/>
<rect x="595" y="663" width="1" height="23"/>
<rect x="603" y="663" width="1" height="25"/>
<rect x="611" y="663" width="1" height="31"/>
<rect x="619" y="663" width="1" height="39"/>
<rect x="627" y="663" width="1" height="45"/>
<rect x="635" y="663" width="1" height="47"/>
<rect x="643" y="663" width="1" height="47"/>
<rect x="651" y="663" width="1" height="44"/>
<rect x="659" y="663" width="1" height="39"/>
<rect x="667" y="663" width="1" height="35"/>
<rect x="675" y="663" width="1" height="32"/>
<rect x="683" y="663" width="1" height="31"/>
<rect x="691" y="663" width="1" height="29"/>
<rect x="699" y="663" width="1" height="31"/>
<rect x="707" y="663" width="1" height="37"/>
<rect x="715" y="663" width="1" height="42"/>
<rect x="723" y="663" width="1" height="46"/>
<rect x="731" y="663" width="1" height="48"/>
<rect x="739" y="663" width="1" height="51"/>
<rect x="747" y="663" width="1" height="53"/>
<rect x="755" y="663" width="1" height="56"/>
<rect x="763" y="663" width="1" height="58"/>
<rect x="771" y="663" width="1" height="61"/>
<rect x="779" y="663" width="1" height="61"/>
<rect x="787" y="663" width="1" height="59"/>
<rect x="795" y="663" width="1" height="59"/>
<rect x="803" y="663" width="1" height="49"/>
<rect x="811" y="663" width="1" height="39"/>
<rect x="819" y="663" width="1" height="29"/>
<rect x="827" y="663" width="1" height="19"/>
<rect x="835" y="663" width="1" height="13"/>
<rect x="843" y="663" width="1" height="11"/>
<rect x="851" y="663" width="1" height="1"/>
<rect x="859" y="658" width="1" height="5"/>
<rect x="867" y="653" width="1" height="10"/>
<rect x="875" y="646" width="1" height="17"/>
<rect x="883" y="644" width="1" height="19"/>
<rect x="891" y="642" width="1" height="21"/>
<rect x="899" y="629" width="1" height="34"/>
<rect x="907" y="620" width="1" height="43"/>
<rect x="915" y="613" width="1" height="50"/>
<rect x="923" y="609" width="1" height="54"/>
<rect x="931" y="607" width="1" height="56"/>
<rect x="939" y="608" width="1" height="55"/>
<rect x="947" y="606" width="1" height="57"/>
<rect x="955" y="603" width="1" height="60"/>
<rect x="963" y="602" width="1" height="61"/>
<rect x="971" y="601" width="1" height="62"/>
<rect x="979" y="599" width="1" height="64"/>
<rect x="987" y="597" width="1" height="66"/>
<rect x="995" y="595" width="1" height="68"/>
<rect x="1003" y="593" width="1" height="70"/>
<rect x="1011" y="593" width="1" height="70"/>
<rect x="1019" y="592" width="1" height="71"/>
<rect x="1027" y="589" width="1" height="74"/>
<rect x="1035" y="589" width="1" height="74"/>
<rect x="1043" y="596" width="1" height="67"/>
<rect x="1051" y="603" width="1" height="60"/>
<rect x="1059" y="610" width="1" height="53"/>
<rect x="1067" y="616" width="1" height="47"/>
<rect x="1075" y="621" width="1" height="42"/>
<rect x="1083" y="625" width="1" height="38"/>
<rect x="1091" y="629" width="1" height="34"/>
<rect x="1099" y="632" width="1" height="31"/>
<rect x="1107" y="635" width="1" height="28"/>
<rect x="1115" y="638" width="1" height="25"/>
<rect x="1123" y="642" width="1" height="21"/>
<rect x="1131" y="648" width="1" height="15"/>
<rect x="1139" y="663" width="1" height="1"/>
<rect x="1147" y="663" width="1" height="15"/>
<rect x="1155" y="663" width="1" height="27"/>
<rect x="1163" y="663" width="1" height="41"/>
<rect x="1171" y="663" width="1" height="51"/>
<rect x="1179" y="663" width="1" height="59"/>
<rect x="1187" y="663" width="1" height="67"/>
<rect x="1195" y="663" width="1" height="74"/>
<rect x="1203" y="663" width="1" height="76"/>
<rect x="1211" y="663" width="1" height="77"/>
<rect x="1219" y="663" width="1" height="77"/>
<rect x="1227" y="663" width="1" height="77"/>
<rect x="1235" y="663" width="1" height="67"/>
<rect x="1243" y="663" width="1" height="61"/>
<rect x="1251" y="663" width="1" height="56"/>
<rect x="1259" y="663" width="1" height="49"/>
<rect x="1267" y="663" width="1" height="44"/>
<rect x="1275" y="663" width="1" height="36"/>
<rect x="1283" y="663" width="1" height="25"/>
<rect x="1291" y="663" width="1" height="19"/>
<rect x="1299" y="663" width="1" height="14"/>
<rect x="1307" y="663" width="1" height="1"/>
<rect x="1315" y="663" width="1" height="1"/>
<rect x="1323" y="663" width="1" height="5"/>
<rect x="1331" y="663" width="1" height="5"/>
<rect x="1339" y="663" width="1" height="3"/>
<rect x="1347" y="663" width="1" height="2"/>
<rect x="1355" y="663" width="1" height="4"/>
<rect x="1363" y="663" width="1" height="5"/>
<rect x="1371" y="663" width="1" height="4"/>
<rect x="1379" y="663" width="1" height="4"/>
<rect x="1387" y="663" width="1" height="2"/>
<rect x="1395" y="663" width="1" height="1"/>
<rect x="1403" y="661" width="1" height="2"/>
<rect x="1411" y="658" width="1" height="5"/>
<rect x="1419" y="651" width="1" height="12"/>
<rect x="1427" y="653" width="1" height="10"/>
<rect x="1435" y="658" width="1" height="5"/>
</g>
<polyline points="0.0,712.5 14.0,703.0 20.0,698.8 32.0,691.8 50.0,679.5 60.0,674.5 70.0,668.8 80.0,664.5 90.0,664.0 100.0,664.5 115.0,668.0 123.0,671.8 131.0,676.2 140.0,682.0 150.0,688.8 160.0,693.0 170.0,694.2 180.0,694.2 190.0,692.5 200.0,691.5 210.0,690.5 220.0,689.5 228.0,689.5 240.0,692.0 250.0,696.2 260.0,701.2 267.0,704.5 275.0,705.8 285.0,707.0 295.0,705.8 303.0,703.8 315.0,697.5 325.0,690.0 335.0,681.2 345.0,673.2 355.0,665.5 363.0,660.0 371.0,655.0 379.0,650.5 387.0,647.5 395.0,645.0 403.0,643.0 411.0,641.2 419.0,639.5 427.5,635.8 435.0,634.2 443.0,632.5 451.0,631.2 459.0,630.0 467.0,629.2 475.0,629.2 483.0,630.5 491.0,632.0 499.0,635.0 507.0,638.8 515.0,643.8 523.0,650.0 531.0,654.2 539.0,659.2 547.0,666.2 555.0,671.2 563.0,675.0 571.0,678.8 579.0,682.5 587.0,684.2 595.0,685.0 603.0,685.5 611.0,686.8 619.0,688.8 627.0,691.2 635.0,695.0 643.0,697.5 651.0,699.5 659.0,701.2 667.0,702.5 675.0,703.2 683.0,703.2 691.0,701.8 699.0,700.0 707.0,699.2 715.0,699.2 723.0,699.5 731.0,701.2 739.0,702.5 747.0,705.0 755.0,708.0 763.0,710.0 771.0,713.8 779.0,716.8 787.0,718.8 795.0,719.5 803.0,719.5 811.0,718.0 819.0,715.0 827.0,711.2 835.0,706.2 843.0,701.8 851.0,694.5 859.0,687.5 867.0,680.0 875.0,673.2 883.0,665.5 891.0,660.0 899.0,653.0 907.0,648.8 915.0,641.2 923.0,635.0 931.0,628.8 939.0,624.2 947.0,619.5 955.0,613.8 963.0,610.0 971.0,607.5 979.0,604.5 987.0,603.2 995.0,601.8 1003.0,600.0 1011.0,598.2 1019.0,597.0 1027.0,595.5 1035.0,593.8 1043.0,593.2 1051.0,593.2 1059.0,594.2 1067.0,597.5 1075.0,599.2 1083.0,603.2 1091.0,608.2 1099.0,612.5 1107.0,617.0 1115.0,622.5 1123.0,627.5 1131.0,631.2 1139.0,636.2 1147.0,642.5 1155.0,649.5 1163.0,657.5 1171.0,667.5 1179.0,677.5 1187.0,686.2 1195.0,697.5 1203.0,708.8 1211.0,717.5 1219.0,725.0 1227.0,730.5 1235.0,733.2 1243.0,734.5 1251.0,734.2 1259.0,731.2 1267.0,727.7 1275.0,723.8 1283.0,718.6 1291.0,712.2 1299.0,705.7 1307.0,698.0 1315.0,690.7 1323.0,685.0 1331.0,680.3 1339.0,676.7 1347.0,672.0 1355.0,669.5 1363.0,668.2 1371.0,667.6 1379.0,667.4 1387.0,666.9 1395.0,666.1 1403.0,665.0 1411.0,664.3 1419.0,663.0 1427.0,661.2 1435.0,660.4 1443.0,660.4" fill="none" stroke="#ff0000" stroke-width="1" stroke-dasharray="3 3.4" shape-rendering="crispEdges"/>
</g>
<g clip-path="url(#crsi)">
<g shape-rendering="crispEdges" stroke="#c0c0c0" stroke-width="1" stroke-dasharray="3 3">
<line x1="2" y1="787.5" x2="1653" y2="787.5"/>
<line x1="2" y1="838.5" x2="1653" y2="838.5"/>
<line x1="2" y1="899.5" x2="1653" y2="899.5"/>
</g>
<polyline points="0.0,837.0 3.0,837.5 11.0,834.8 19.0,834.8 27.0,846.2 35.0,835.5 43.0,821.2 51.0,821.2 59.0,829.2 67.0,828.0 75.0,832.2 83.0,858.0 91.0,861.8 99.0,859.2 107.0,866.0 115.0,869.8 123.0,851.8 131.0,848.5 139.0,860.5 147.0,861.8 155.0,849.2 163.0,837.2 171.0,835.0 179.0,839.2 187.0,842.5 195.0,852.5 203.0,847.5 211.0,853.0 219.0,861.0 227.0,868.5 235.0,867.5 243.0,863.0 251.0,867.5 259.0,853.0 267.0,855.5 275.0,836.2 283.0,841.2 291.0,836.2 299.0,837.5 307.0,827.2 315.0,828.5 323.0,821.8 331.0,820.2 339.0,820.2 347.0,829.2 355.0,824.2 363.0,822.2 371.0,833.5 379.0,831.2 387.0,831.2 395.0,823.0 403.0,820.0 411.0,810.0 419.0,812.2 427.0,810.0 435.0,811.2 443.0,830.5 451.0,838.5 459.0,833.8 467.0,832.2 475.0,827.5 483.0,832.5 491.0,841.0 499.0,849.2 507.0,845.5 515.0,869.2 523.0,864.8 531.0,857.2 539.0,858.5 547.0,846.2 555.0,839.2 563.0,840.5 571.0,851.2 579.0,849.2 587.0,854.2 595.0,850.0 603.0,850.0 611.0,865.0 619.0,869.2 627.0,870.5 635.0,861.2 643.0,861.2 651.0,850.0 659.0,846.2 667.0,843.2 675.0,846.2 683.0,849.2 691.0,848.5 699.0,858.8 707.0,872.2 715.0,866.2 723.0,867.5 731.0,868.5 739.0,870.5 747.0,872.2 755.0,875.5 763.0,878.5 771.0,880.5 779.0,873.0 787.0,867.2 795.0,871.0 803.0,836.2 811.0,834.2 819.0,829.2 827.0,821.2 835.0,829.2 843.0,839.5 851.0,821.2 859.0,822.5 867.0,822.2 875.0,816.2 883.0,827.5 891.0,823.0 899.0,805.5 907.0,806.8 915.0,805.5 923.0,808.5 931.0,811.8 939.0,818.5 947.0,811.2 955.0,808.5 963.0,808.5 971.0,808.0 979.0,803.0 987.0,801.0 995.0,799.2 1003.0,798.0 1011.0,797.2 1019.0,794.8 1027.0,791.2 1035.0,796.8 1043.0,822.2 1051.0,826.2 1059.0,829.2 1067.0,832.5 1075.0,829.2 1083.0,825.5 1091.0,832.5 1099.0,829.2 1107.0,829.2 1115.0,829.2 1123.0,841.8 1131.0,846.2 1139.0,875.0 1147.0,881.2 1155.0,877.2 1163.0,885.5 1171.0,882.2 1179.0,883.5 1187.0,886.2 1195.0,887.5 1203.0,880.5 1211.0,880.5 1219.0,877.2 1227.0,878.5 1235.0,849.2 1243.0,850.5 1251.0,853.5 1259.0,844.2 1267.0,846.3 1275.0,836.0 1283.0,825.1 1291.0,836.0 1299.0,831.3 1307.0,815.3 1315.0,837.3 1323.0,847.6 1331.0,839.1 1339.0,837.3 1347.0,838.6 1355.0,839.1 1363.0,846.3 1371.0,841.2 1379.0,837.3 1387.0,835.5 1395.0,832.9 1403.0,831.3 1411.0,828.7 1419.0,817.4 1427.0,840.6 1435.0,844.3 1443.0,844.3" fill="none" stroke="#1e90ff" stroke-width="1" shape-rendering="crispEdges"/>
</g>
<g clip-path="url(#cm)">
<rect x="1236.5" y="185.5" width="61" height="18" fill="#fff" stroke="#ff0000" stroke-width="1" shape-rendering="crispEdges"/>
<text class="s" x="1239.0" y="200.9" font-size="18.3" fill="#ff0000" textLength="56.5" lengthAdjust="spacingAndGlyphs">110.221</text>
<rect x="1298" y="194" width="10" height="1" fill="#ff0000" shape-rendering="crispEdges"/>
<rect x="1348.5" y="205.5" width="61" height="18" fill="#fff" stroke="#ff0000" stroke-width="1" shape-rendering="crispEdges"/>
<text class="s" x="1351.0" y="220.9" font-size="18.3" fill="#ff0000" textLength="56.5" lengthAdjust="spacingAndGlyphs">110.140</text>
<rect x="1410.5" y="212.5" width="3" height="3" fill="#fff" stroke="#ff0000" stroke-width="1" shape-rendering="crispEdges"/>
<rect x="1414" y="214" width="6" height="1" fill="#ff0000" shape-rendering="crispEdges"/>
<rect x="1252.5" y="367.5" width="61" height="18" fill="#fff" stroke="#ff0000" stroke-width="1" shape-rendering="crispEdges"/>
<text class="s" x="1255.0" y="382.9" font-size="18.3" fill="#ff0000" textLength="56.5" lengthAdjust="spacingAndGlyphs">109.479</text>
<rect x="1314" y="376" width="10" height="1" fill="#ff0000" shape-rendering="crispEdges"/>
<rect x="1116.5" y="457.5" width="61" height="18" fill="#fff" stroke="#ff0000" stroke-width="1" shape-rendering="crispEdges"/>
<text class="s" x="1119.0" y="472.9" font-size="18.3" fill="#ff0000" textLength="56.5" lengthAdjust="spacingAndGlyphs">109.110</text>
<rect x="1178" y="466" width="10" height="1" fill="#ff0000" shape-rendering="crispEdges"/>
<rect x="732.5" y="554.5" width="61" height="18" fill="#fff" stroke="#ff0000" stroke-width="1" shape-rendering="crispEdges"/>
<text class="s" x="735.0" y="569.9" font-size="18.3" fill="#ff0000" textLength="56.5" lengthAdjust="spacingAndGlyphs">108.714</text>
<rect x="794" y="563" width="10" height="1" fill="#ff0000" shape-rendering="crispEdges"/>
<rect x="1046.5" y="301.5" width="73" height="24" fill="#fff" stroke="#ff0000" stroke-width="1" shape-rendering="crispEdges"/>
<text x="1049.0" y="322.0" font-size="23" fill="#ff0000" textLength="69" lengthAdjust="spacingAndGlyphs">109.736</text>
<rect x="1036" y="313" width="7" height="1" fill="#ff0000" shape-rendering="crispEdges"/>
<rect x="1043.5" y="311.5" width="2" height="4" fill="#fff" stroke="#ff0000" stroke-width="1" shape-rendering="crispEdges"/>
<rect x="1540.5" y="298.5" width="110" height="24" fill="#fff" stroke="#404040" stroke-width="1" shape-rendering="crispEdges"/>
<rect x="1540" y="313" width="112" height="1" fill="#32cd32" shape-rendering="crispEdges"/>
<text x="1541" y="317.5" font-size="21.5" fill="#00ff00" textLength="108" lengthAdjust="spacingAndGlyphs" style="font-family:'Liberation Serif','Noto Serif CJK SC',serif">多空转折点</text>
<rect x="1648.5" y="295.5" width="4" height="4" fill="#fff" stroke="#ff0000" stroke-width="1" shape-rendering="crispEdges"/>
<rect x="1648.5" y="374.5" width="4" height="4" fill="#fff" stroke="#0000ff" stroke-width="1" shape-rendering="crispEdges"/>
<rect x="1648.5" y="311.5" width="3" height="4" fill="#fff" stroke="#32cd32" stroke-width="1" shape-rendering="crispEdges"/>
<rect x="1593" y="296" width="3" height="2" fill="#00ff00" shape-rendering="crispEdges"/>
<rect x="1540" y="313" width="1" height="1" fill="#ff00ff" shape-rendering="crispEdges"/>
<g shape-rendering="crispEdges" stroke="#ff0000" fill="#ff0000">
<line x1="1210.0" y1="450.0" x2="1305.1" y2="210.5" stroke-width="3.2" stroke-linecap="round"/>
<polygon points="1307.5,204.5 1308.7,219.0 1304.1,213.0 1296.7,214.2" stroke="none"/>
<line x1="1306.9" y1="205.9" x2="1308.7" y2="219.0" stroke-width="2.6"/>
<line x1="1306.9" y1="205.9" x2="1296.7" y2="214.2" stroke-width="2.6"/>
</g>
<g shape-rendering="crispEdges" stroke="#ff0000" fill="#ff0000">
<line x1="1308.0" y1="207.0" x2="1325.3" y2="365.5" stroke-width="3.2" stroke-linecap="round"/>
<polygon points="1326.0,372.0 1318.1,359.8 1325.0,363.0 1331.1,358.4" stroke="none"/>
<line x1="1325.8" y1="370.5" x2="1318.1" y2="359.8" stroke-width="2.6"/>
<line x1="1325.8" y1="370.5" x2="1331.1" y2="358.4" stroke-width="2.6"/>
</g>
<g shape-rendering="crispEdges" stroke="#ff0000" fill="#ff0000">
<line x1="1328.0" y1="368.0" x2="1415.9" y2="223.6" stroke-width="3.2" stroke-linecap="round"/>
<polygon points="1419.3,218.0 1418.1,232.5 1414.6,225.8 1407.0,225.7" stroke="none"/>
<line x1="1418.5" y1="219.3" x2="1418.1" y2="232.5" stroke-width="2.6"/>
<line x1="1418.5" y1="219.3" x2="1407.0" y2="225.7" stroke-width="2.6"/>
</g>
<g shape-rendering="crispEdges" stroke="#ff0000" fill="#ff0000">
<line x1="1418.3" y1="220.0" x2="1444.2" y2="330.1" stroke-width="3.2" stroke-linecap="round"/>
<polygon points="1445.5,335.5 1437.6,326.1 1443.7,328.0 1448.3,323.5" stroke="none"/>
<line x1="1445.2" y1="334.0" x2="1437.6" y2="326.1" stroke-width="2.6"/>
<line x1="1445.2" y1="334.0" x2="1448.3" y2="323.5" stroke-width="2.6"/>
</g>
</g>
<g shape-rendering="crispEdges" stroke="#ff0000" fill="#ff0000">
<line x1="1316.0" y1="675.5" x2="1449.5" y2="664.0" stroke-width="3.0" stroke-linecap="round"/>
<polygon points="1455.0,663.5 1444.5,669.4 1447.3,664.2 1443.6,659.5" stroke="none"/>
<line x1="1453.5" y1="663.6" x2="1444.5" y2="669.4" stroke-width="2.6"/>
<line x1="1453.5" y1="663.6" x2="1443.6" y2="659.5" stroke-width="2.6"/>
</g>
<g shape-rendering="crispEdges" stroke="#ff0000" fill="#ff0000">
<line x1="1334.5" y1="844.5" x2="1413.1" y2="826.7" stroke-width="3.0" stroke-linecap="round"/>
<polygon points="1418.5,825.5 1408.9,832.8 1411.0,827.2 1406.7,823.0" stroke="none"/>
<line x1="1417.0" y1="825.8" x2="1408.9" y2="832.8" stroke-width="2.6"/>
<line x1="1417.0" y1="825.8" x2="1406.7" y2="823.0" stroke-width="2.6"/>
</g>
<g shape-rendering="crispEdges" stroke="#ff0000" fill="#ff0000">
<line x1="1420.5" y1="823.0" x2="1435.7" y2="845.8" stroke-width="3.0" stroke-linecap="round"/>
<polygon points="1438.5,850.0 1428.8,844.5 1434.6,844.2 1437.1,838.9" stroke="none"/>
<line x1="1437.7" y1="848.8" x2="1428.8" y2="844.5" stroke-width="2.6"/>
<line x1="1437.7" y1="848.8" x2="1437.1" y2="838.9" stroke-width="2.6"/>
</g>
<g shape-rendering="crispEdges">
<rect x="0" y="24" width="1654" height="1" fill="#000"/>
<rect x="0" y="577" width="1654" height="1" fill="#000"/>
<rect x="0" y="578" width="1654" height="1" fill="#f0f0f0"/>
<rect x="0" y="579" width="1654" height="1" fill="#000"/>
<rect x="0" y="749" width="1654" height="1" fill="#000"/>
<rect x="0" y="750" width="1654" height="1" fill="#f0f0f0"/>
<rect x="0" y="751" width="1654" height="1" fill="#000"/>
<rect x="0" y="925" width="1654" height="1" fill="#000"/>
<rect x="1653" y="24" width="1" height="902" fill="#000"/>
<rect x="1699" y="22" width="1" height="920" fill="#e6e6e6"/>
<rect x="1654" y="45" width="2" height="1" fill="#000"/>
<rect x="1654" y="78" width="2" height="1" fill="#000"/>
<rect x="1654" y="111" width="2" height="1" fill="#000"/>
<rect x="1654" y="144" width="2" height="1" fill="#000"/>
<rect x="1654" y="177" width="2" height="1" fill="#000"/>
<rect x="1654" y="210" width="2" height="1" fill="#000"/>
<rect x="1654" y="243" width="2" height="1" fill="#000"/>
<rect x="1654" y="276" width="2" height="1" fill="#000"/>
<rect x="1654" y="309" width="2" height="1" fill="#000"/>
<rect x="1654" y="342" width="2" height="1" fill="#000"/>
<rect x="1654" y="375" width="2" height="1" fill="#000"/>
<rect x="1654" y="408" width="2" height="1" fill="#000"/>
<rect x="1654" y="441" width="2" height="1" fill="#000"/>
<rect x="1654" y="474" width="2" height="1" fill="#000"/>
<rect x="1654" y="507" width="2" height="1" fill="#000"/>
<rect x="1654" y="540" width="2" height="1" fill="#000"/>
<rect x="1654" y="573" width="2" height="1" fill="#000"/>
<rect x="1654" y="663" width="2" height="1" fill="#000"/>
<rect x="1654" y="924" width="1" height="1" fill="#000"/>
<rect x="1654" y="581" width="1" height="1" fill="#000"/>
<rect x="1654" y="748" width="1" height="1" fill="#000"/>
<rect x="1654" y="753" width="1" height="1" fill="#000"/>
<rect x="59" y="926" width="1" height="3" fill="#000"/>
<rect x="123" y="926" width="1" height="3" fill="#000"/>
<rect x="187" y="926" width="1" height="3" fill="#000"/>
<rect x="251" y="926" width="1" height="3" fill="#000"/>
<rect x="315" y="926" width="1" height="3" fill="#000"/>
<rect x="379" y="926" width="1" height="3" fill="#000"/>
<rect x="443" y="926" width="1" height="3" fill="#000"/>
<rect x="507" y="926" width="1" height="3" fill="#000"/>
<rect x="571" y="926" width="1" height="3" fill="#000"/>
<rect x="635" y="926" width="1" height="3" fill="#000"/>
<rect x="699" y="926" width="1" height="3" fill="#000"/>
<rect x="763" y="926" width="1" height="3" fill="#000"/>
<rect x="827" y="926" width="1" height="3" fill="#000"/>
<rect x="891" y="926" width="1" height="3" fill="#000"/>
<rect x="955" y="926" width="1" height="3" fill="#000"/>
<rect x="1019" y="926" width="1" height="3" fill="#000"/>
<rect x="1083" y="926" width="1" height="3" fill="#000"/>
<rect x="1147" y="926" width="1" height="3" fill="#000"/>
<rect x="1211" y="926" width="1" height="3" fill="#000"/>
<rect x="1275" y="926" width="1" height="3" fill="#000"/>
<rect x="1339" y="926" width="1" height="3" fill="#000"/>
<rect x="1403" y="926" width="1" height="3" fill="#000"/>
</g>
<text text-rendering="geometricPrecision" transform="translate(1659.3 49.0) scale(0.895 1)" font-size="10" fill="#000" text-anchor="start" >110.830</text>
<text text-rendering="geometricPrecision" transform="translate(1659.3 82.0) scale(0.895 1)" font-size="10" fill="#000" text-anchor="start" >110.695</text>
<text text-rendering="geometricPrecision" transform="translate(1659.3 115.0) scale(0.895 1)" font-size="10" fill="#000" text-anchor="start" >110.560</text>
<text text-rendering="geometricPrecision" transform="translate(1659.3 148.0) scale(0.895 1)" font-size="10" fill="#000" text-anchor="start" >110.425</text>
<text text-rendering="geometricPrecision" transform="translate(1659.3 181.0) scale(0.895 1)" font-size="10" fill="#000" text-anchor="start" >110.290</text>
<text text-rendering="geometricPrecision" transform="translate(1659.3 214.0) scale(0.895 1)" font-size="10" fill="#000" text-anchor="start" >110.155</text>
<text text-rendering="geometricPrecision" transform="translate(1659.3 247.0) scale(0.895 1)" font-size="10" fill="#000" text-anchor="start" >110.020</text>
<text text-rendering="geometricPrecision" transform="translate(1659.3 280.0) scale(0.895 1)" font-size="10" fill="#000" text-anchor="start" >109.885</text>
<text text-rendering="geometricPrecision" transform="translate(1659.3 346.0) scale(0.895 1)" font-size="10" fill="#000" text-anchor="start" >109.615</text>
<text text-rendering="geometricPrecision" transform="translate(1659.3 379.0) scale(0.895 1)" font-size="10" fill="#000" text-anchor="start" >109.480</text>
<text text-rendering="geometricPrecision" transform="translate(1659.3 412.0) scale(0.895 1)" font-size="10" fill="#000" text-anchor="start" >109.345</text>
<text text-rendering="geometricPrecision" transform="translate(1659.3 445.0) scale(0.895 1)" font-size="10" fill="#000" text-anchor="start" >109.210</text>
<text text-rendering="geometricPrecision" transform="translate(1659.3 478.0) scale(0.895 1)" font-size="10" fill="#000" text-anchor="start" >109.075</text>
<text text-rendering="geometricPrecision" transform="translate(1659.3 511.0) scale(0.895 1)" font-size="10" fill="#000" text-anchor="start" >108.940</text>
<text text-rendering="geometricPrecision" transform="translate(1659.3 544.0) scale(0.895 1)" font-size="10" fill="#000" text-anchor="start" >108.805</text>
<text text-rendering="geometricPrecision" transform="translate(1659.3 577.0) scale(0.895 1)" font-size="10" fill="#000" text-anchor="start" >108.670</text>
<text text-rendering="geometricPrecision" transform="translate(1657 590) scale(0.87 1)" font-size="10" fill="#000" text-anchor="start" >0.2841</text>
<text text-rendering="geometricPrecision" transform="translate(1657 667) scale(0.9 1)" font-size="10" fill="#000" text-anchor="start" >0.00</text>
<text text-rendering="geometricPrecision" transform="translate(1657 746) scale(0.9 1)" font-size="10" fill="#000" text-anchor="start" >-0.2949</text>
<text text-rendering="geometricPrecision" transform="translate(1657.3 762) scale(0.87 1)" font-size="10" fill="#000" text-anchor="start" >100</text>
<text text-rendering="geometricPrecision" transform="translate(1657 791) scale(0.9 1)" font-size="10" fill="#000" text-anchor="start" >80</text>
<text text-rendering="geometricPrecision" transform="translate(1657 842) scale(0.9 1)" font-size="10" fill="#000" text-anchor="start" >50</text>
<text text-rendering="geometricPrecision" transform="translate(1656.8 903) scale(0.9 1)" font-size="10" fill="#000" text-anchor="start" >15</text>
<text text-rendering="geometricPrecision" transform="translate(1657.3 922) scale(0.9 1)" font-size="10" fill="#000" text-anchor="start" >0</text>
<text text-rendering="geometricPrecision" transform="translate(-6 938) scale(0.9 1)" font-size="10" fill="#000" text-anchor="start" >12 Jul 2021</text>
<text text-rendering="geometricPrecision" transform="translate(58 938) scale(0.9 1)" font-size="10" fill="#000" text-anchor="start" >14 Jul 00:00</text>
<text text-rendering="geometricPrecision" transform="translate(122 938) scale(0.9 1)" font-size="10" fill="#000" text-anchor="start" >15 Jul 08:00</text>
<text text-rendering="geometricPrecision" transform="translate(186 938) scale(0.9 1)" font-size="10" fill="#000" text-anchor="start" >16 Jul 16:00</text>
<text text-rendering="geometricPrecision" transform="translate(250 938) scale(0.9 1)" font-size="10" fill="#000" text-anchor="start" >20 Jul 00:00</text>
<text text-rendering="geometricPrecision" transform="translate(314 938) scale(0.9 1)" font-size="10" fill="#000" text-anchor="start" >21 Jul 08:00</text>
<text text-rendering="geometricPrecision" transform="translate(378 938) scale(0.9 1)" font-size="10" fill="#000" text-anchor="start" >22 Jul 16:00</text>
<text text-rendering="geometricPrecision" transform="translate(442 938) scale(0.9 1)" font-size="10" fill="#000" text-anchor="start" >26 Jul 00:00</text>
<text text-rendering="geometricPrecision" transform="translate(506 938) scale(0.9 1)" font-size="10" fill="#000" text-anchor="start" >27 Jul 08:00</text>
<text text-rendering="geometricPrecision" transform="translate(570 938) scale(0.9 1)" font-size="10" fill="#000" text-anchor="start" >28 Jul 16:00</text>
<text text-rendering="geometricPrecision" transform="translate(634 938) scale(0.9 1)" font-size="10" fill="#000" text-anchor="start" >30 Jul 00:00</text>
<text text-rendering="geometricPrecision" transform="translate(698 938) scale(0.9 1)" font-size="10" fill="#000" text-anchor="start" >2 Aug 08:00</text>
<text text-rendering="geometricPrecision" transform="translate(762 938) scale(0.9 1)" font-size="10" fill="#000" text-anchor="start" >3 Aug 16:00</text>
<text text-rendering="geometricPrecision" transform="translate(826 938) scale(0.9 1)" font-size="10" fill="#000" text-anchor="start" >5 Aug 00:00</text>
<text text-rendering="geometricPrecision" transform="translate(890 938) scale(0.9 1)" font-size="10" fill="#000" text-anchor="start" >6 Aug 08:00</text>
<text text-rendering="geometricPrecision" transform="translate(954 938) scale(0.9 1)" font-size="10" fill="#000" text-anchor="start" >9 Aug 16:00</text>
<text text-rendering="geometricPrecision" transform="translate(1018 938) scale(0.9 1)" font-size="10" fill="#000" text-anchor="start" >11 Aug 00:00</text>
<text text-rendering="geometricPrecision" transform="translate(1082 938) scale(0.9 1)" font-size="10" fill="#000" text-anchor="start" >12 Aug 08:00</text>
<text text-rendering="geometricPrecision" transform="translate(1146 938) scale(0.9 1)" font-size="10" fill="#000" text-anchor="start" >13 Aug 16:00</text>
<text text-rendering="geometricPrecision" transform="translate(1210 938) scale(0.9 1)" font-size="10" fill="#000" text-anchor="start" >17 Aug 00:00</text>
<text text-rendering="geometricPrecision" transform="translate(1274 938) scale(0.9 1)" font-size="10" fill="#000" text-anchor="start" >18 Aug 08:00</text>
<text text-rendering="geometricPrecision" transform="translate(1338 938) scale(0.9 1)" font-size="10" fill="#000" text-anchor="start" >19 Aug 16:00</text>
<text text-rendering="geometricPrecision" transform="translate(1402 938) scale(0.9 1)" font-size="10" fill="#000" text-anchor="start" >23 Aug 00:00</text>
<text text-rendering="geometricPrecision" transform="translate(0 592) scale(0.93 1)" font-size="10" fill="#000" text-anchor="start" >MACD(12,26,9) 0.0100 0.0137</text>
<text text-rendering="geometricPrecision" transform="translate(-1 764) scale(0.93 1)" font-size="10" fill="#000" text-anchor="start" >RSI(14) 47.0323</text>
<rect x="1655" y="268" width="41" height="11" fill="#ff0000" shape-rendering="crispEdges"/>
<text text-rendering="geometricPrecision" transform="translate(1659.8 277) scale(0.895 1)" font-size="10" fill="#fff" text-anchor="start" stroke="#fff" stroke-width="0.25">109.895</text>
<rect x="1655" y="291" width="41" height="11" fill="#ff0000" shape-rendering="crispEdges"/>
<text text-rendering="geometricPrecision" transform="translate(1659.8 300) scale(0.895 1)" font-size="10" fill="#fff" text-anchor="start" stroke="#fff" stroke-width="0.25">109.801</text>
<rect x="1655" y="307" width="41" height="11" fill="#3cb83c" shape-rendering="crispEdges"/>
<text text-rendering="geometricPrecision" transform="translate(1659.8 316) scale(0.895 1)" font-size="10" fill="#fff" text-anchor="start" stroke="#fff" stroke-width="0.25">109.736</text>
<rect x="1655" y="319" width="41" height="11" fill="#000" shape-rendering="crispEdges"/>
<text text-rendering="geometricPrecision" transform="translate(1659.8 328) scale(0.895 1)" font-size="10" fill="#fff" text-anchor="start" stroke="#fff" stroke-width="0.25">109.690</text>
<rect x="1655" y="345" width="41" height="11" fill="#0000ff" shape-rendering="crispEdges"/>
<text text-rendering="geometricPrecision" transform="translate(1659.8 354) scale(0.895 1)" font-size="10" fill="#fff" text-anchor="start" stroke="#fff" stroke-width="0.25">109.581</text>
<rect x="1655" y="370" width="41" height="11" fill="#0000ff" shape-rendering="crispEdges"/>
<text text-rendering="geometricPrecision" transform="translate(1659.8 379) scale(0.895 1)" font-size="10" fill="#fff" text-anchor="start" stroke="#fff" stroke-width="0.25">109.479</text>
<polygon points="0,35 2.5,31 5,35" fill="#000"/>
<text text-rendering="geometricPrecision" x="10.5" y="36" font-size="10" fill="#000" textLength="200.5" lengthAdjust="spacingAndGlyphs" xml:space="preserve">USDJPY-,H4  109.664 109.711 109.656 109.690</text>
<g shape-rendering="crispEdges">
<rect x="0" y="43" width="219" height="60" fill="#fff"/>
<rect x="0" y="44" width="50" height="24" fill="url(#gsell)"/>
<rect x="166" y="44" width="51" height="24" fill="url(#gsell)"/>
<rect x="0" y="68" width="107" height="33" fill="url(#gprice)"/>
<rect x="109" y="68" width="108" height="33" fill="url(#gprice)"/>
<rect x="2" y="67" width="44" height="1" fill="#b81414"/>
<rect x="169" y="67" width="44" height="1" fill="#b81414"/>
<rect x="2" y="68" width="44" height="1" fill="#f47c7c"/>
<rect x="169" y="68" width="44" height="1" fill="#f47c7c"/>
<rect x="0" y="44" width="50" height="1" fill="#c42222"/>
<rect x="166" y="44" width="51" height="1" fill="#c42222"/>
<rect x="49" y="44" width="1" height="24" fill="#c42222"/>
<rect x="166" y="44" width="1" height="24" fill="#c42222"/>
<rect x="50" y="68" width="57" height="1" fill="#c01c1c"/>
<rect x="109" y="68" width="57" height="1" fill="#c01c1c"/>
<rect x="52" y="44" width="111" height="22" fill="#b8b8b8"/>
<rect x="53" y="45" width="109" height="20" fill="#fff"/>
<rect x="54" y="46" width="18" height="18" fill="url(#gbtn)"/>
<rect x="143" y="46" width="18" height="18" fill="url(#gbtn)"/>
<rect x="73" y="45" width="1" height="20" fill="#b8b8b8"/>
<rect x="141" y="45" width="1" height="20" fill="#b8b8b8"/>
</g>
<polygon points="60,53 65,53 62.5,56" fill="#4060c0"/>
<polygon points="149,56 154,56 151.5,53" fill="#4060c0"/>
<text x="138" y="58.6" font-size="13" fill="#000" text-anchor="end">1.00</text>
<text x="10.3" y="60" font-size="12.2" fill="#fff" textLength="25.7" lengthAdjust="spacingAndGlyphs">SELL</text>
<text x="178.5" y="60" font-size="12.2" fill="#fff" textLength="23.2" lengthAdjust="spacingAndGlyphs">BUY</text>
<text x="21.5" y="95.8" font-size="11.8" font-weight="bold" fill="#fff" textLength="20.1" lengthAdjust="spacingAndGlyphs">109</text>
<text x="45.3" y="95.8" font-size="34" fill="#fff" textLength="35.3" lengthAdjust="spacingAndGlyphs">69</text>
<text x="85" y="80" font-size="11.7" font-weight="bold" fill="#fff" textLength="7" lengthAdjust="spacingAndGlyphs">0</text>
<text x="131.5" y="95.8" font-size="11.8" font-weight="bold" fill="#fff" textLength="20.1" lengthAdjust="spacingAndGlyphs">109</text>
<text x="156.3" y="95.8" font-size="34" fill="#fff" textLength="36" lengthAdjust="spacingAndGlyphs">70</text>
<text x="196" y="80" font-size="11.7" font-weight="bold" fill="#fff" textLength="6.5" lengthAdjust="spacingAndGlyphs">7</text>
</svg></body></html>
